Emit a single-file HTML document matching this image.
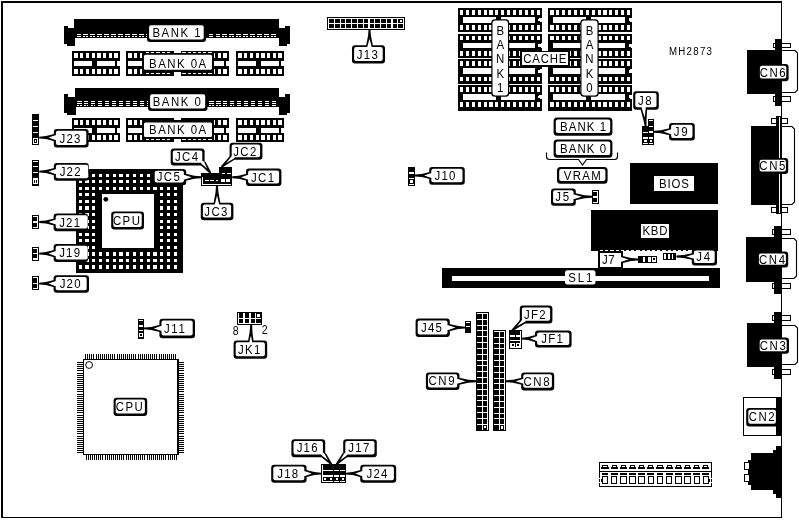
<!DOCTYPE html>
<html><head><meta charset="utf-8"><title>MH2873 board layout</title>
<style>
html,body{margin:0;padding:0;background:#fff;}
body{width:799px;height:520px;overflow:hidden;}
svg{display:block;filter:grayscale(1);font-family:"Liberation Sans",sans-serif;fill:#000;}
</style></head><body>
<svg width="799" height="520" viewBox="0 0 799 520" shape-rendering="crispEdges">
<rect x="0" y="0" width="799" height="520" fill="#fff"/>
<rect x="1.00" y="1.00" width="2.00" height="516.75" fill="#000"/>
<rect x="1.00" y="1.00" width="781.00" height="2.00" fill="#000"/>
<rect x="781.00" y="1.00" width="1.00" height="516.75" fill="#000"/>
<rect x="1.00" y="516.75" width="781.00" height="1.00" fill="#000"/>
<rect x="74.00" y="19.00" width="205.00" height="19.00" fill="#000"/>
<rect x="64.00" y="26.00" width="4.00" height="18.00" fill="#000"/>
<rect x="67.00" y="28.00" width="8.00" height="18.00" fill="#000"/>
<rect x="64.00" y="26.00" width="11.00" height="18.00" fill="#000"/>
<rect x="279.00" y="28.00" width="8.00" height="18.00" fill="#000"/>
<rect x="285.00" y="26.00" width="5.00" height="18.00" fill="#000"/>
<rect x="279.00" y="28.00" width="11.00" height="16.00" fill="#000"/>
<rect x="76.50" y="34.00" width="4.50" height="1.00" fill="#fff"/>
<rect x="83.45" y="34.00" width="4.50" height="1.00" fill="#fff"/>
<rect x="90.40" y="34.00" width="4.50" height="1.00" fill="#fff"/>
<rect x="97.35" y="34.00" width="4.50" height="1.00" fill="#fff"/>
<rect x="104.30" y="34.00" width="4.50" height="1.00" fill="#fff"/>
<rect x="111.25" y="34.00" width="4.50" height="1.00" fill="#fff"/>
<rect x="118.20" y="34.00" width="4.50" height="1.00" fill="#fff"/>
<rect x="125.15" y="34.00" width="4.50" height="1.00" fill="#fff"/>
<rect x="132.10" y="34.00" width="4.50" height="1.00" fill="#fff"/>
<rect x="139.05" y="34.00" width="4.50" height="1.00" fill="#fff"/>
<rect x="146.00" y="34.00" width="4.50" height="1.00" fill="#fff"/>
<rect x="152.95" y="34.00" width="4.50" height="1.00" fill="#fff"/>
<rect x="159.90" y="34.00" width="4.50" height="1.00" fill="#fff"/>
<rect x="166.85" y="34.00" width="4.50" height="1.00" fill="#fff"/>
<rect x="173.80" y="34.00" width="4.50" height="1.00" fill="#fff"/>
<rect x="180.75" y="34.00" width="4.50" height="1.00" fill="#fff"/>
<rect x="187.70" y="34.00" width="4.50" height="1.00" fill="#fff"/>
<rect x="194.65" y="34.00" width="4.50" height="1.00" fill="#fff"/>
<rect x="201.60" y="34.00" width="4.50" height="1.00" fill="#fff"/>
<rect x="208.55" y="34.00" width="4.50" height="1.00" fill="#fff"/>
<rect x="215.50" y="34.00" width="4.50" height="1.00" fill="#fff"/>
<rect x="222.45" y="34.00" width="4.50" height="1.00" fill="#fff"/>
<rect x="229.40" y="34.00" width="4.50" height="1.00" fill="#fff"/>
<rect x="236.35" y="34.00" width="4.50" height="1.00" fill="#fff"/>
<rect x="243.30" y="34.00" width="4.50" height="1.00" fill="#fff"/>
<rect x="250.25" y="34.00" width="4.50" height="1.00" fill="#fff"/>
<rect x="257.20" y="34.00" width="4.50" height="1.00" fill="#fff"/>
<rect x="264.15" y="34.00" width="4.50" height="1.00" fill="#fff"/>
<rect x="271.10" y="34.00" width="4.50" height="1.00" fill="#fff"/>
<rect x="76.50" y="36.00" width="2.00" height="1.00" fill="#fff"/>
<rect x="79.10" y="36.00" width="1.90" height="1.00" fill="#fff"/>
<rect x="83.45" y="36.00" width="2.00" height="1.00" fill="#fff"/>
<rect x="86.05" y="36.00" width="1.90" height="1.00" fill="#fff"/>
<rect x="90.40" y="36.00" width="2.00" height="1.00" fill="#fff"/>
<rect x="93.00" y="36.00" width="1.90" height="1.00" fill="#fff"/>
<rect x="97.35" y="36.00" width="2.00" height="1.00" fill="#fff"/>
<rect x="99.95" y="36.00" width="1.90" height="1.00" fill="#fff"/>
<rect x="104.30" y="36.00" width="2.00" height="1.00" fill="#fff"/>
<rect x="106.90" y="36.00" width="1.90" height="1.00" fill="#fff"/>
<rect x="111.25" y="36.00" width="2.00" height="1.00" fill="#fff"/>
<rect x="113.85" y="36.00" width="1.90" height="1.00" fill="#fff"/>
<rect x="118.20" y="36.00" width="2.00" height="1.00" fill="#fff"/>
<rect x="120.80" y="36.00" width="1.90" height="1.00" fill="#fff"/>
<rect x="125.15" y="36.00" width="2.00" height="1.00" fill="#fff"/>
<rect x="127.75" y="36.00" width="1.90" height="1.00" fill="#fff"/>
<rect x="132.10" y="36.00" width="2.00" height="1.00" fill="#fff"/>
<rect x="134.70" y="36.00" width="1.90" height="1.00" fill="#fff"/>
<rect x="139.05" y="36.00" width="2.00" height="1.00" fill="#fff"/>
<rect x="141.65" y="36.00" width="1.90" height="1.00" fill="#fff"/>
<rect x="146.00" y="36.00" width="2.00" height="1.00" fill="#fff"/>
<rect x="148.60" y="36.00" width="1.90" height="1.00" fill="#fff"/>
<rect x="152.95" y="36.00" width="2.00" height="1.00" fill="#fff"/>
<rect x="155.55" y="36.00" width="1.90" height="1.00" fill="#fff"/>
<rect x="159.90" y="36.00" width="2.00" height="1.00" fill="#fff"/>
<rect x="162.50" y="36.00" width="1.90" height="1.00" fill="#fff"/>
<rect x="166.85" y="36.00" width="2.00" height="1.00" fill="#fff"/>
<rect x="169.45" y="36.00" width="1.90" height="1.00" fill="#fff"/>
<rect x="173.80" y="36.00" width="2.00" height="1.00" fill="#fff"/>
<rect x="176.40" y="36.00" width="1.90" height="1.00" fill="#fff"/>
<rect x="180.75" y="36.00" width="2.00" height="1.00" fill="#fff"/>
<rect x="183.35" y="36.00" width="1.90" height="1.00" fill="#fff"/>
<rect x="187.70" y="36.00" width="2.00" height="1.00" fill="#fff"/>
<rect x="190.30" y="36.00" width="1.90" height="1.00" fill="#fff"/>
<rect x="194.65" y="36.00" width="2.00" height="1.00" fill="#fff"/>
<rect x="197.25" y="36.00" width="1.90" height="1.00" fill="#fff"/>
<rect x="201.60" y="36.00" width="2.00" height="1.00" fill="#fff"/>
<rect x="204.20" y="36.00" width="1.90" height="1.00" fill="#fff"/>
<rect x="208.55" y="36.00" width="2.00" height="1.00" fill="#fff"/>
<rect x="211.15" y="36.00" width="1.90" height="1.00" fill="#fff"/>
<rect x="215.50" y="36.00" width="2.00" height="1.00" fill="#fff"/>
<rect x="218.10" y="36.00" width="1.90" height="1.00" fill="#fff"/>
<rect x="222.45" y="36.00" width="2.00" height="1.00" fill="#fff"/>
<rect x="225.05" y="36.00" width="1.90" height="1.00" fill="#fff"/>
<rect x="229.40" y="36.00" width="2.00" height="1.00" fill="#fff"/>
<rect x="232.00" y="36.00" width="1.90" height="1.00" fill="#fff"/>
<rect x="236.35" y="36.00" width="2.00" height="1.00" fill="#fff"/>
<rect x="238.95" y="36.00" width="1.90" height="1.00" fill="#fff"/>
<rect x="243.30" y="36.00" width="2.00" height="1.00" fill="#fff"/>
<rect x="245.90" y="36.00" width="1.90" height="1.00" fill="#fff"/>
<rect x="250.25" y="36.00" width="2.00" height="1.00" fill="#fff"/>
<rect x="252.85" y="36.00" width="1.90" height="1.00" fill="#fff"/>
<rect x="257.20" y="36.00" width="2.00" height="1.00" fill="#fff"/>
<rect x="259.80" y="36.00" width="1.90" height="1.00" fill="#fff"/>
<rect x="264.15" y="36.00" width="2.00" height="1.00" fill="#fff"/>
<rect x="266.75" y="36.00" width="1.90" height="1.00" fill="#fff"/>
<rect x="271.10" y="36.00" width="2.00" height="1.00" fill="#fff"/>
<rect x="273.70" y="36.00" width="1.90" height="1.00" fill="#fff"/>
<rect x="68.00" y="26.00" width="6.00" height="2.00" fill="#fff"/>
<rect x="64.00" y="44.00" width="3.00" height="2.00" fill="#fff"/>
<rect x="279.00" y="26.00" width="6.00" height="2.00" fill="#fff"/>
<rect x="287.00" y="44.00" width="3.00" height="2.00" fill="#fff"/>
<rect x="75.00" y="88.00" width="204.00" height="19.00" fill="#000"/>
<rect x="64.00" y="94.00" width="12.00" height="21.00" fill="#000"/>
<rect x="68.00" y="94.00" width="7.00" height="3.00" fill="#fff"/>
<rect x="64.00" y="113.00" width="3.00" height="2.00" fill="#fff"/>
<rect x="279.00" y="94.00" width="11.00" height="21.00" fill="#000"/>
<rect x="279.00" y="94.00" width="6.00" height="3.00" fill="#fff"/>
<rect x="287.00" y="113.00" width="3.00" height="2.00" fill="#fff"/>
<rect x="77.00" y="101.00" width="4.50" height="1.00" fill="#fff"/>
<rect x="83.95" y="101.00" width="4.50" height="1.00" fill="#fff"/>
<rect x="90.90" y="101.00" width="4.50" height="1.00" fill="#fff"/>
<rect x="97.85" y="101.00" width="4.50" height="1.00" fill="#fff"/>
<rect x="104.80" y="101.00" width="4.50" height="1.00" fill="#fff"/>
<rect x="111.75" y="101.00" width="4.50" height="1.00" fill="#fff"/>
<rect x="118.70" y="101.00" width="4.50" height="1.00" fill="#fff"/>
<rect x="125.65" y="101.00" width="4.50" height="1.00" fill="#fff"/>
<rect x="132.60" y="101.00" width="4.50" height="1.00" fill="#fff"/>
<rect x="139.55" y="101.00" width="4.50" height="1.00" fill="#fff"/>
<rect x="146.50" y="101.00" width="4.50" height="1.00" fill="#fff"/>
<rect x="153.45" y="101.00" width="4.50" height="1.00" fill="#fff"/>
<rect x="160.40" y="101.00" width="4.50" height="1.00" fill="#fff"/>
<rect x="167.35" y="101.00" width="4.50" height="1.00" fill="#fff"/>
<rect x="174.30" y="101.00" width="4.50" height="1.00" fill="#fff"/>
<rect x="181.25" y="101.00" width="4.50" height="1.00" fill="#fff"/>
<rect x="188.20" y="101.00" width="4.50" height="1.00" fill="#fff"/>
<rect x="195.15" y="101.00" width="4.50" height="1.00" fill="#fff"/>
<rect x="202.10" y="101.00" width="4.50" height="1.00" fill="#fff"/>
<rect x="209.05" y="101.00" width="4.50" height="1.00" fill="#fff"/>
<rect x="216.00" y="101.00" width="4.50" height="1.00" fill="#fff"/>
<rect x="222.95" y="101.00" width="4.50" height="1.00" fill="#fff"/>
<rect x="229.90" y="101.00" width="4.50" height="1.00" fill="#fff"/>
<rect x="236.85" y="101.00" width="4.50" height="1.00" fill="#fff"/>
<rect x="243.80" y="101.00" width="4.50" height="1.00" fill="#fff"/>
<rect x="250.75" y="101.00" width="4.50" height="1.00" fill="#fff"/>
<rect x="257.70" y="101.00" width="4.50" height="1.00" fill="#fff"/>
<rect x="264.65" y="101.00" width="4.50" height="1.00" fill="#fff"/>
<rect x="271.60" y="101.00" width="4.50" height="1.00" fill="#fff"/>
<rect x="77.00" y="103.00" width="4.50" height="1.00" fill="#fff"/>
<rect x="83.95" y="103.00" width="4.50" height="1.00" fill="#fff"/>
<rect x="90.90" y="103.00" width="4.50" height="1.00" fill="#fff"/>
<rect x="97.85" y="103.00" width="4.50" height="1.00" fill="#fff"/>
<rect x="104.80" y="103.00" width="4.50" height="1.00" fill="#fff"/>
<rect x="111.75" y="103.00" width="4.50" height="1.00" fill="#fff"/>
<rect x="118.70" y="103.00" width="4.50" height="1.00" fill="#fff"/>
<rect x="125.65" y="103.00" width="4.50" height="1.00" fill="#fff"/>
<rect x="132.60" y="103.00" width="4.50" height="1.00" fill="#fff"/>
<rect x="139.55" y="103.00" width="4.50" height="1.00" fill="#fff"/>
<rect x="146.50" y="103.00" width="4.50" height="1.00" fill="#fff"/>
<rect x="153.45" y="103.00" width="4.50" height="1.00" fill="#fff"/>
<rect x="160.40" y="103.00" width="4.50" height="1.00" fill="#fff"/>
<rect x="167.35" y="103.00" width="4.50" height="1.00" fill="#fff"/>
<rect x="174.30" y="103.00" width="4.50" height="1.00" fill="#fff"/>
<rect x="181.25" y="103.00" width="4.50" height="1.00" fill="#fff"/>
<rect x="188.20" y="103.00" width="4.50" height="1.00" fill="#fff"/>
<rect x="195.15" y="103.00" width="4.50" height="1.00" fill="#fff"/>
<rect x="202.10" y="103.00" width="4.50" height="1.00" fill="#fff"/>
<rect x="209.05" y="103.00" width="4.50" height="1.00" fill="#fff"/>
<rect x="216.00" y="103.00" width="4.50" height="1.00" fill="#fff"/>
<rect x="222.95" y="103.00" width="4.50" height="1.00" fill="#fff"/>
<rect x="229.90" y="103.00" width="4.50" height="1.00" fill="#fff"/>
<rect x="236.85" y="103.00" width="4.50" height="1.00" fill="#fff"/>
<rect x="243.80" y="103.00" width="4.50" height="1.00" fill="#fff"/>
<rect x="250.75" y="103.00" width="4.50" height="1.00" fill="#fff"/>
<rect x="257.70" y="103.00" width="4.50" height="1.00" fill="#fff"/>
<rect x="264.65" y="103.00" width="4.50" height="1.00" fill="#fff"/>
<rect x="271.60" y="103.00" width="4.50" height="1.00" fill="#fff"/>
<rect x="77.00" y="105.00" width="2.00" height="1.00" fill="#fff"/>
<rect x="79.60" y="105.00" width="1.90" height="1.00" fill="#fff"/>
<rect x="83.95" y="105.00" width="2.00" height="1.00" fill="#fff"/>
<rect x="86.55" y="105.00" width="1.90" height="1.00" fill="#fff"/>
<rect x="90.90" y="105.00" width="2.00" height="1.00" fill="#fff"/>
<rect x="93.50" y="105.00" width="1.90" height="1.00" fill="#fff"/>
<rect x="97.85" y="105.00" width="2.00" height="1.00" fill="#fff"/>
<rect x="100.45" y="105.00" width="1.90" height="1.00" fill="#fff"/>
<rect x="104.80" y="105.00" width="2.00" height="1.00" fill="#fff"/>
<rect x="107.40" y="105.00" width="1.90" height="1.00" fill="#fff"/>
<rect x="111.75" y="105.00" width="2.00" height="1.00" fill="#fff"/>
<rect x="114.35" y="105.00" width="1.90" height="1.00" fill="#fff"/>
<rect x="118.70" y="105.00" width="2.00" height="1.00" fill="#fff"/>
<rect x="121.30" y="105.00" width="1.90" height="1.00" fill="#fff"/>
<rect x="125.65" y="105.00" width="2.00" height="1.00" fill="#fff"/>
<rect x="128.25" y="105.00" width="1.90" height="1.00" fill="#fff"/>
<rect x="132.60" y="105.00" width="2.00" height="1.00" fill="#fff"/>
<rect x="135.20" y="105.00" width="1.90" height="1.00" fill="#fff"/>
<rect x="139.55" y="105.00" width="2.00" height="1.00" fill="#fff"/>
<rect x="142.15" y="105.00" width="1.90" height="1.00" fill="#fff"/>
<rect x="146.50" y="105.00" width="2.00" height="1.00" fill="#fff"/>
<rect x="149.10" y="105.00" width="1.90" height="1.00" fill="#fff"/>
<rect x="153.45" y="105.00" width="2.00" height="1.00" fill="#fff"/>
<rect x="156.05" y="105.00" width="1.90" height="1.00" fill="#fff"/>
<rect x="160.40" y="105.00" width="2.00" height="1.00" fill="#fff"/>
<rect x="163.00" y="105.00" width="1.90" height="1.00" fill="#fff"/>
<rect x="167.35" y="105.00" width="2.00" height="1.00" fill="#fff"/>
<rect x="169.95" y="105.00" width="1.90" height="1.00" fill="#fff"/>
<rect x="174.30" y="105.00" width="2.00" height="1.00" fill="#fff"/>
<rect x="176.90" y="105.00" width="1.90" height="1.00" fill="#fff"/>
<rect x="181.25" y="105.00" width="2.00" height="1.00" fill="#fff"/>
<rect x="183.85" y="105.00" width="1.90" height="1.00" fill="#fff"/>
<rect x="188.20" y="105.00" width="2.00" height="1.00" fill="#fff"/>
<rect x="190.80" y="105.00" width="1.90" height="1.00" fill="#fff"/>
<rect x="195.15" y="105.00" width="2.00" height="1.00" fill="#fff"/>
<rect x="197.75" y="105.00" width="1.90" height="1.00" fill="#fff"/>
<rect x="202.10" y="105.00" width="2.00" height="1.00" fill="#fff"/>
<rect x="204.70" y="105.00" width="1.90" height="1.00" fill="#fff"/>
<rect x="209.05" y="105.00" width="2.00" height="1.00" fill="#fff"/>
<rect x="211.65" y="105.00" width="1.90" height="1.00" fill="#fff"/>
<rect x="216.00" y="105.00" width="2.00" height="1.00" fill="#fff"/>
<rect x="218.60" y="105.00" width="1.90" height="1.00" fill="#fff"/>
<rect x="222.95" y="105.00" width="2.00" height="1.00" fill="#fff"/>
<rect x="225.55" y="105.00" width="1.90" height="1.00" fill="#fff"/>
<rect x="229.90" y="105.00" width="2.00" height="1.00" fill="#fff"/>
<rect x="232.50" y="105.00" width="1.90" height="1.00" fill="#fff"/>
<rect x="236.85" y="105.00" width="2.00" height="1.00" fill="#fff"/>
<rect x="239.45" y="105.00" width="1.90" height="1.00" fill="#fff"/>
<rect x="243.80" y="105.00" width="2.00" height="1.00" fill="#fff"/>
<rect x="246.40" y="105.00" width="1.90" height="1.00" fill="#fff"/>
<rect x="250.75" y="105.00" width="2.00" height="1.00" fill="#fff"/>
<rect x="253.35" y="105.00" width="1.90" height="1.00" fill="#fff"/>
<rect x="257.70" y="105.00" width="2.00" height="1.00" fill="#fff"/>
<rect x="260.30" y="105.00" width="1.90" height="1.00" fill="#fff"/>
<rect x="264.65" y="105.00" width="2.00" height="1.00" fill="#fff"/>
<rect x="267.25" y="105.00" width="1.90" height="1.00" fill="#fff"/>
<rect x="271.60" y="105.00" width="2.00" height="1.00" fill="#fff"/>
<rect x="274.20" y="105.00" width="1.90" height="1.00" fill="#fff"/>
<rect x="72.00" y="51.00" width="48.00" height="25.00" fill="#000"/>
<rect x="74.40" y="53.00" width="3.30" height="4.80" fill="#fff"/>
<rect x="74.40" y="69.00" width="3.30" height="4.80" fill="#fff"/>
<rect x="80.12" y="53.00" width="3.30" height="4.80" fill="#fff"/>
<rect x="80.12" y="69.00" width="3.30" height="4.80" fill="#fff"/>
<rect x="85.84" y="53.00" width="3.30" height="4.80" fill="#fff"/>
<rect x="85.84" y="69.00" width="3.30" height="4.80" fill="#fff"/>
<rect x="91.56" y="53.00" width="3.30" height="4.80" fill="#fff"/>
<rect x="91.56" y="69.00" width="3.30" height="4.80" fill="#fff"/>
<rect x="97.28" y="53.00" width="3.30" height="4.80" fill="#fff"/>
<rect x="97.28" y="69.00" width="3.30" height="4.80" fill="#fff"/>
<rect x="103.00" y="53.00" width="3.30" height="4.80" fill="#fff"/>
<rect x="103.00" y="69.00" width="3.30" height="4.80" fill="#fff"/>
<rect x="108.72" y="53.00" width="3.30" height="4.80" fill="#fff"/>
<rect x="108.72" y="69.00" width="3.30" height="4.80" fill="#fff"/>
<rect x="114.44" y="53.00" width="4.00" height="4.80" fill="#fff"/>
<rect x="114.44" y="69.00" width="4.00" height="4.80" fill="#fff"/>
<rect x="74.30" y="60.90" width="17.52" height="4.95" fill="#fff"/>
<rect x="96.82" y="60.90" width="18.28" height="4.95" fill="#fff"/>
<polygon points="120.00,61.10 117.40,61.10 116.60,62.10 116.60,65.05 117.40,66.15 120.00,66.15" fill="#fff"/>
<rect x="126.00" y="51.00" width="48.00" height="25.00" fill="#000"/>
<rect x="128.40" y="53.00" width="3.30" height="4.80" fill="#fff"/>
<rect x="128.40" y="69.00" width="3.30" height="4.80" fill="#fff"/>
<rect x="134.12" y="53.00" width="3.30" height="4.80" fill="#fff"/>
<rect x="134.12" y="69.00" width="3.30" height="4.80" fill="#fff"/>
<rect x="139.84" y="53.00" width="3.30" height="4.80" fill="#fff"/>
<rect x="139.84" y="69.00" width="3.30" height="4.80" fill="#fff"/>
<rect x="145.56" y="53.00" width="3.30" height="4.80" fill="#fff"/>
<rect x="145.56" y="69.00" width="3.30" height="4.80" fill="#fff"/>
<rect x="151.28" y="53.00" width="3.30" height="4.80" fill="#fff"/>
<rect x="151.28" y="69.00" width="3.30" height="4.80" fill="#fff"/>
<rect x="157.00" y="53.00" width="3.30" height="4.80" fill="#fff"/>
<rect x="157.00" y="69.00" width="3.30" height="4.80" fill="#fff"/>
<rect x="162.72" y="53.00" width="3.30" height="4.80" fill="#fff"/>
<rect x="162.72" y="69.00" width="3.30" height="4.80" fill="#fff"/>
<rect x="168.44" y="53.00" width="4.00" height="4.80" fill="#fff"/>
<rect x="168.44" y="69.00" width="4.00" height="4.80" fill="#fff"/>
<rect x="128.30" y="60.90" width="17.52" height="4.95" fill="#fff"/>
<rect x="150.82" y="60.90" width="18.28" height="4.95" fill="#fff"/>
<polygon points="174.00,61.10 171.40,61.10 170.60,62.10 170.60,65.05 171.40,66.15 174.00,66.15" fill="#fff"/>
<rect x="181.00" y="51.00" width="48.00" height="25.00" fill="#000"/>
<rect x="183.40" y="53.00" width="3.30" height="4.80" fill="#fff"/>
<rect x="183.40" y="69.00" width="3.30" height="4.80" fill="#fff"/>
<rect x="189.12" y="53.00" width="3.30" height="4.80" fill="#fff"/>
<rect x="189.12" y="69.00" width="3.30" height="4.80" fill="#fff"/>
<rect x="194.84" y="53.00" width="3.30" height="4.80" fill="#fff"/>
<rect x="194.84" y="69.00" width="3.30" height="4.80" fill="#fff"/>
<rect x="200.56" y="53.00" width="3.30" height="4.80" fill="#fff"/>
<rect x="200.56" y="69.00" width="3.30" height="4.80" fill="#fff"/>
<rect x="206.28" y="53.00" width="3.30" height="4.80" fill="#fff"/>
<rect x="206.28" y="69.00" width="3.30" height="4.80" fill="#fff"/>
<rect x="212.00" y="53.00" width="3.30" height="4.80" fill="#fff"/>
<rect x="212.00" y="69.00" width="3.30" height="4.80" fill="#fff"/>
<rect x="217.72" y="53.00" width="3.30" height="4.80" fill="#fff"/>
<rect x="217.72" y="69.00" width="3.30" height="4.80" fill="#fff"/>
<rect x="223.44" y="53.00" width="4.00" height="4.80" fill="#fff"/>
<rect x="223.44" y="69.00" width="4.00" height="4.80" fill="#fff"/>
<rect x="183.30" y="60.90" width="17.52" height="4.95" fill="#fff"/>
<rect x="205.82" y="60.90" width="18.28" height="4.95" fill="#fff"/>
<polygon points="229.00,61.10 226.40,61.10 225.60,62.10 225.60,65.05 226.40,66.15 229.00,66.15" fill="#fff"/>
<rect x="236.00" y="51.00" width="48.00" height="25.00" fill="#000"/>
<rect x="238.40" y="53.00" width="3.30" height="4.80" fill="#fff"/>
<rect x="238.40" y="69.00" width="3.30" height="4.80" fill="#fff"/>
<rect x="244.12" y="53.00" width="3.30" height="4.80" fill="#fff"/>
<rect x="244.12" y="69.00" width="3.30" height="4.80" fill="#fff"/>
<rect x="249.84" y="53.00" width="3.30" height="4.80" fill="#fff"/>
<rect x="249.84" y="69.00" width="3.30" height="4.80" fill="#fff"/>
<rect x="255.56" y="53.00" width="3.30" height="4.80" fill="#fff"/>
<rect x="255.56" y="69.00" width="3.30" height="4.80" fill="#fff"/>
<rect x="261.28" y="53.00" width="3.30" height="4.80" fill="#fff"/>
<rect x="261.28" y="69.00" width="3.30" height="4.80" fill="#fff"/>
<rect x="267.00" y="53.00" width="3.30" height="4.80" fill="#fff"/>
<rect x="267.00" y="69.00" width="3.30" height="4.80" fill="#fff"/>
<rect x="272.72" y="53.00" width="3.30" height="4.80" fill="#fff"/>
<rect x="272.72" y="69.00" width="3.30" height="4.80" fill="#fff"/>
<rect x="278.44" y="53.00" width="4.00" height="4.80" fill="#fff"/>
<rect x="278.44" y="69.00" width="4.00" height="4.80" fill="#fff"/>
<rect x="238.30" y="60.90" width="17.52" height="4.95" fill="#fff"/>
<rect x="260.82" y="60.90" width="18.28" height="4.95" fill="#fff"/>
<polygon points="284.00,61.10 281.40,61.10 280.60,62.10 280.60,65.05 281.40,66.15 284.00,66.15" fill="#fff"/>
<rect x="142.00" y="53.00" width="72.00" height="19.00" fill="#000"/>
<rect x="142.00" y="51.50" width="32.00" height="24.00" fill="#000"/>
<rect x="181.00" y="51.50" width="33.00" height="24.00" fill="#000"/>
<rect x="146.00" y="52.00" width="3.20" height="1.20" fill="#fff"/>
<rect x="151.20" y="52.00" width="3.20" height="1.20" fill="#fff"/>
<rect x="156.40" y="52.00" width="3.20" height="1.20" fill="#fff"/>
<rect x="161.60" y="52.00" width="3.20" height="1.20" fill="#fff"/>
<rect x="166.80" y="52.00" width="3.20" height="1.20" fill="#fff"/>
<rect x="182.40" y="52.00" width="3.20" height="1.20" fill="#fff"/>
<rect x="187.60" y="52.00" width="3.20" height="1.20" fill="#fff"/>
<rect x="192.80" y="52.00" width="3.20" height="1.20" fill="#fff"/>
<rect x="198.00" y="52.00" width="3.20" height="1.20" fill="#fff"/>
<rect x="203.20" y="52.00" width="3.20" height="1.20" fill="#fff"/>
<rect x="208.40" y="52.00" width="3.20" height="1.20" fill="#fff"/>
<rect x="146.00" y="73.00" width="3.20" height="1.20" fill="#fff"/>
<rect x="151.20" y="73.00" width="3.20" height="1.20" fill="#fff"/>
<rect x="156.40" y="73.00" width="3.20" height="1.20" fill="#fff"/>
<rect x="161.60" y="73.00" width="3.20" height="1.20" fill="#fff"/>
<rect x="166.80" y="73.00" width="3.20" height="1.20" fill="#fff"/>
<rect x="182.40" y="73.00" width="3.20" height="1.20" fill="#fff"/>
<rect x="187.60" y="73.00" width="3.20" height="1.20" fill="#fff"/>
<rect x="192.80" y="73.00" width="3.20" height="1.20" fill="#fff"/>
<rect x="198.00" y="73.00" width="3.20" height="1.20" fill="#fff"/>
<rect x="203.20" y="73.00" width="3.20" height="1.20" fill="#fff"/>
<rect x="208.40" y="73.00" width="3.20" height="1.20" fill="#fff"/>
<rect x="144" y="54.75" width="68" height="15.05" rx="1.5" fill="#fff" shape-rendering="geometricPrecision"/>
<text transform="translate(177.60,67.90) scale(0.88,1)" font-size="13" text-anchor="middle" textLength="64.77" lengthAdjust="spacing">BANK 0A</text>
<rect x="72.00" y="118.00" width="48.00" height="24.00" fill="#000"/>
<rect x="74.40" y="120.00" width="3.30" height="4.80" fill="#fff"/>
<rect x="74.40" y="135.00" width="3.30" height="4.80" fill="#fff"/>
<rect x="80.12" y="120.00" width="3.30" height="4.80" fill="#fff"/>
<rect x="80.12" y="135.00" width="3.30" height="4.80" fill="#fff"/>
<rect x="85.84" y="120.00" width="3.30" height="4.80" fill="#fff"/>
<rect x="85.84" y="135.00" width="3.30" height="4.80" fill="#fff"/>
<rect x="91.56" y="120.00" width="3.30" height="4.80" fill="#fff"/>
<rect x="91.56" y="135.00" width="3.30" height="4.80" fill="#fff"/>
<rect x="97.28" y="120.00" width="3.30" height="4.80" fill="#fff"/>
<rect x="97.28" y="135.00" width="3.30" height="4.80" fill="#fff"/>
<rect x="103.00" y="120.00" width="3.30" height="4.80" fill="#fff"/>
<rect x="103.00" y="135.00" width="3.30" height="4.80" fill="#fff"/>
<rect x="108.72" y="120.00" width="3.30" height="4.80" fill="#fff"/>
<rect x="108.72" y="135.00" width="3.30" height="4.80" fill="#fff"/>
<rect x="114.44" y="120.00" width="4.00" height="4.80" fill="#fff"/>
<rect x="114.44" y="135.00" width="4.00" height="4.80" fill="#fff"/>
<rect x="74.30" y="127.90" width="17.52" height="4.60" fill="#fff"/>
<rect x="96.82" y="127.90" width="18.28" height="4.60" fill="#fff"/>
<polygon points="120.00,128.10 117.40,128.10 116.60,129.10 116.60,131.70 117.40,132.80 120.00,132.80" fill="#fff"/>
<rect x="126.00" y="118.00" width="48.00" height="24.00" fill="#000"/>
<rect x="128.40" y="120.00" width="3.30" height="4.80" fill="#fff"/>
<rect x="128.40" y="135.00" width="3.30" height="4.80" fill="#fff"/>
<rect x="134.12" y="120.00" width="3.30" height="4.80" fill="#fff"/>
<rect x="134.12" y="135.00" width="3.30" height="4.80" fill="#fff"/>
<rect x="139.84" y="120.00" width="3.30" height="4.80" fill="#fff"/>
<rect x="139.84" y="135.00" width="3.30" height="4.80" fill="#fff"/>
<rect x="145.56" y="120.00" width="3.30" height="4.80" fill="#fff"/>
<rect x="145.56" y="135.00" width="3.30" height="4.80" fill="#fff"/>
<rect x="151.28" y="120.00" width="3.30" height="4.80" fill="#fff"/>
<rect x="151.28" y="135.00" width="3.30" height="4.80" fill="#fff"/>
<rect x="157.00" y="120.00" width="3.30" height="4.80" fill="#fff"/>
<rect x="157.00" y="135.00" width="3.30" height="4.80" fill="#fff"/>
<rect x="162.72" y="120.00" width="3.30" height="4.80" fill="#fff"/>
<rect x="162.72" y="135.00" width="3.30" height="4.80" fill="#fff"/>
<rect x="168.44" y="120.00" width="4.00" height="4.80" fill="#fff"/>
<rect x="168.44" y="135.00" width="4.00" height="4.80" fill="#fff"/>
<rect x="128.30" y="127.90" width="17.52" height="4.60" fill="#fff"/>
<rect x="150.82" y="127.90" width="18.28" height="4.60" fill="#fff"/>
<polygon points="174.00,128.10 171.40,128.10 170.60,129.10 170.60,131.70 171.40,132.80 174.00,132.80" fill="#fff"/>
<rect x="181.00" y="118.00" width="48.00" height="24.00" fill="#000"/>
<rect x="183.40" y="120.00" width="3.30" height="4.80" fill="#fff"/>
<rect x="183.40" y="135.00" width="3.30" height="4.80" fill="#fff"/>
<rect x="189.12" y="120.00" width="3.30" height="4.80" fill="#fff"/>
<rect x="189.12" y="135.00" width="3.30" height="4.80" fill="#fff"/>
<rect x="194.84" y="120.00" width="3.30" height="4.80" fill="#fff"/>
<rect x="194.84" y="135.00" width="3.30" height="4.80" fill="#fff"/>
<rect x="200.56" y="120.00" width="3.30" height="4.80" fill="#fff"/>
<rect x="200.56" y="135.00" width="3.30" height="4.80" fill="#fff"/>
<rect x="206.28" y="120.00" width="3.30" height="4.80" fill="#fff"/>
<rect x="206.28" y="135.00" width="3.30" height="4.80" fill="#fff"/>
<rect x="212.00" y="120.00" width="3.30" height="4.80" fill="#fff"/>
<rect x="212.00" y="135.00" width="3.30" height="4.80" fill="#fff"/>
<rect x="217.72" y="120.00" width="3.30" height="4.80" fill="#fff"/>
<rect x="217.72" y="135.00" width="3.30" height="4.80" fill="#fff"/>
<rect x="223.44" y="120.00" width="4.00" height="4.80" fill="#fff"/>
<rect x="223.44" y="135.00" width="4.00" height="4.80" fill="#fff"/>
<rect x="183.30" y="127.90" width="17.52" height="4.60" fill="#fff"/>
<rect x="205.82" y="127.90" width="18.28" height="4.60" fill="#fff"/>
<polygon points="229.00,128.10 226.40,128.10 225.60,129.10 225.60,131.70 226.40,132.80 229.00,132.80" fill="#fff"/>
<rect x="236.00" y="118.00" width="48.00" height="24.00" fill="#000"/>
<rect x="238.40" y="120.00" width="3.30" height="4.80" fill="#fff"/>
<rect x="238.40" y="135.00" width="3.30" height="4.80" fill="#fff"/>
<rect x="244.12" y="120.00" width="3.30" height="4.80" fill="#fff"/>
<rect x="244.12" y="135.00" width="3.30" height="4.80" fill="#fff"/>
<rect x="249.84" y="120.00" width="3.30" height="4.80" fill="#fff"/>
<rect x="249.84" y="135.00" width="3.30" height="4.80" fill="#fff"/>
<rect x="255.56" y="120.00" width="3.30" height="4.80" fill="#fff"/>
<rect x="255.56" y="135.00" width="3.30" height="4.80" fill="#fff"/>
<rect x="261.28" y="120.00" width="3.30" height="4.80" fill="#fff"/>
<rect x="261.28" y="135.00" width="3.30" height="4.80" fill="#fff"/>
<rect x="267.00" y="120.00" width="3.30" height="4.80" fill="#fff"/>
<rect x="267.00" y="135.00" width="3.30" height="4.80" fill="#fff"/>
<rect x="272.72" y="120.00" width="3.30" height="4.80" fill="#fff"/>
<rect x="272.72" y="135.00" width="3.30" height="4.80" fill="#fff"/>
<rect x="278.44" y="120.00" width="4.00" height="4.80" fill="#fff"/>
<rect x="278.44" y="135.00" width="4.00" height="4.80" fill="#fff"/>
<rect x="238.30" y="127.90" width="17.52" height="4.60" fill="#fff"/>
<rect x="260.82" y="127.90" width="18.28" height="4.60" fill="#fff"/>
<polygon points="284.00,128.10 281.40,128.10 280.60,129.10 280.60,131.70 281.40,132.80 284.00,132.80" fill="#fff"/>
<rect x="142.00" y="120.00" width="72.00" height="19.00" fill="#000"/>
<rect x="142.00" y="118.50" width="32.00" height="23.00" fill="#000"/>
<rect x="181.00" y="118.50" width="33.00" height="23.00" fill="#000"/>
<rect x="146.00" y="139.00" width="3.20" height="1.20" fill="#fff"/>
<rect x="151.20" y="139.00" width="3.20" height="1.20" fill="#fff"/>
<rect x="156.40" y="139.00" width="3.20" height="1.20" fill="#fff"/>
<rect x="161.60" y="139.00" width="3.20" height="1.20" fill="#fff"/>
<rect x="166.80" y="139.00" width="3.20" height="1.20" fill="#fff"/>
<rect x="182.40" y="139.00" width="3.20" height="1.20" fill="#fff"/>
<rect x="187.60" y="139.00" width="3.20" height="1.20" fill="#fff"/>
<rect x="192.80" y="139.00" width="3.20" height="1.20" fill="#fff"/>
<rect x="198.00" y="139.00" width="3.20" height="1.20" fill="#fff"/>
<rect x="203.20" y="139.00" width="3.20" height="1.20" fill="#fff"/>
<rect x="208.40" y="139.00" width="3.20" height="1.20" fill="#fff"/>
<rect x="144" y="122.5" width="68" height="14.60" rx="1.5" fill="#fff" shape-rendering="geometricPrecision"/>
<text transform="translate(177.60,134.30) scale(0.88,1)" font-size="13" text-anchor="middle" textLength="64.77" lengthAdjust="spacing">BANK 0A</text>
<rect x="327.00" y="16.70" width="78.00" height="13.30" fill="#000"/>
<rect x="328.20" y="17.90" width="75.60" height="10.90" fill="#fff"/>
<rect x="329.20" y="18.50" width="4.60" height="4.50" fill="#000"/>
<rect x="329.20" y="24.00" width="4.60" height="4.00" fill="#000"/>
<rect x="334.96" y="18.50" width="4.60" height="4.50" fill="#000"/>
<rect x="334.96" y="24.00" width="4.60" height="4.00" fill="#000"/>
<rect x="340.72" y="18.50" width="4.60" height="4.50" fill="#000"/>
<rect x="340.72" y="24.00" width="4.60" height="4.00" fill="#000"/>
<rect x="346.48" y="18.50" width="4.60" height="4.50" fill="#000"/>
<rect x="346.48" y="24.00" width="4.60" height="4.00" fill="#000"/>
<rect x="352.24" y="18.50" width="4.60" height="4.50" fill="#000"/>
<rect x="352.24" y="24.00" width="4.60" height="4.00" fill="#000"/>
<rect x="358.00" y="18.50" width="4.60" height="4.50" fill="#000"/>
<rect x="358.00" y="24.00" width="4.60" height="4.00" fill="#000"/>
<rect x="363.76" y="18.50" width="4.60" height="4.50" fill="#000"/>
<rect x="363.76" y="24.00" width="4.60" height="4.00" fill="#000"/>
<rect x="369.52" y="18.50" width="4.60" height="4.50" fill="#000"/>
<rect x="369.52" y="24.00" width="4.60" height="4.00" fill="#000"/>
<rect x="375.28" y="18.50" width="4.60" height="4.50" fill="#000"/>
<rect x="375.28" y="24.00" width="4.60" height="4.00" fill="#000"/>
<rect x="381.04" y="18.50" width="4.60" height="4.50" fill="#000"/>
<rect x="381.04" y="24.00" width="4.60" height="4.00" fill="#000"/>
<rect x="386.80" y="18.50" width="4.60" height="4.50" fill="#000"/>
<rect x="386.80" y="24.00" width="4.60" height="4.00" fill="#000"/>
<rect x="392.56" y="18.50" width="4.60" height="4.50" fill="#000"/>
<rect x="392.56" y="24.00" width="4.60" height="4.00" fill="#000"/>
<rect x="398.32" y="18.50" width="4.60" height="4.50" fill="#000"/>
<rect x="399.62" y="19.60" width="2.00" height="2.40" fill="#fff"/>
<rect x="398.32" y="24.00" width="4.60" height="4.00" fill="#000"/>
<rect x="458.00" y="8.00" width="83.60" height="24.40" fill="#000"/>
<rect x="460.00" y="10.00" width="3.10" height="4.80" fill="#fff"/>
<rect x="460.00" y="25.20" width="3.10" height="4.80" fill="#fff"/>
<rect x="465.89" y="10.00" width="3.10" height="4.80" fill="#fff"/>
<rect x="465.89" y="25.20" width="3.10" height="4.80" fill="#fff"/>
<rect x="471.78" y="10.00" width="3.10" height="4.80" fill="#fff"/>
<rect x="471.78" y="25.20" width="3.10" height="4.80" fill="#fff"/>
<rect x="477.67" y="10.00" width="3.10" height="4.80" fill="#fff"/>
<rect x="477.67" y="25.20" width="3.10" height="4.80" fill="#fff"/>
<rect x="483.56" y="10.00" width="3.10" height="4.80" fill="#fff"/>
<rect x="483.56" y="25.20" width="3.10" height="4.80" fill="#fff"/>
<rect x="489.45" y="10.00" width="3.10" height="4.80" fill="#fff"/>
<rect x="489.45" y="25.20" width="3.10" height="4.80" fill="#fff"/>
<rect x="495.34" y="10.00" width="3.10" height="4.80" fill="#fff"/>
<rect x="495.34" y="25.20" width="3.10" height="4.80" fill="#fff"/>
<rect x="501.23" y="10.00" width="3.10" height="4.80" fill="#fff"/>
<rect x="501.23" y="25.20" width="3.10" height="4.80" fill="#fff"/>
<rect x="507.12" y="10.00" width="3.10" height="4.80" fill="#fff"/>
<rect x="507.12" y="25.20" width="3.10" height="4.80" fill="#fff"/>
<rect x="513.01" y="10.00" width="3.10" height="4.80" fill="#fff"/>
<rect x="513.01" y="25.20" width="3.10" height="4.80" fill="#fff"/>
<rect x="518.90" y="10.00" width="3.10" height="4.80" fill="#fff"/>
<rect x="518.90" y="25.20" width="3.10" height="4.80" fill="#fff"/>
<rect x="524.79" y="10.00" width="3.10" height="4.80" fill="#fff"/>
<rect x="524.79" y="25.20" width="3.10" height="4.80" fill="#fff"/>
<rect x="530.68" y="10.00" width="3.10" height="4.80" fill="#fff"/>
<rect x="530.68" y="25.20" width="3.10" height="4.80" fill="#fff"/>
<rect x="536.57" y="10.00" width="3.10" height="4.80" fill="#fff"/>
<rect x="536.57" y="25.20" width="3.10" height="4.80" fill="#fff"/>
<rect x="462.70" y="17.00" width="32.80" height="5.60" fill="#fff"/>
<rect x="500.50" y="17.00" width="34.10" height="5.60" fill="#fff"/>
<polygon points="541.60,17.80 538.40,18.60 538.40,21.20 541.60,22.00" fill="#fff"/>
<rect x="458.00" y="33.65" width="83.60" height="24.40" fill="#000"/>
<rect x="460.00" y="35.65" width="3.10" height="4.80" fill="#fff"/>
<rect x="460.00" y="50.85" width="3.10" height="4.80" fill="#fff"/>
<rect x="465.89" y="35.65" width="3.10" height="4.80" fill="#fff"/>
<rect x="465.89" y="50.85" width="3.10" height="4.80" fill="#fff"/>
<rect x="471.78" y="35.65" width="3.10" height="4.80" fill="#fff"/>
<rect x="471.78" y="50.85" width="3.10" height="4.80" fill="#fff"/>
<rect x="477.67" y="35.65" width="3.10" height="4.80" fill="#fff"/>
<rect x="477.67" y="50.85" width="3.10" height="4.80" fill="#fff"/>
<rect x="483.56" y="35.65" width="3.10" height="4.80" fill="#fff"/>
<rect x="483.56" y="50.85" width="3.10" height="4.80" fill="#fff"/>
<rect x="489.45" y="35.65" width="3.10" height="4.80" fill="#fff"/>
<rect x="489.45" y="50.85" width="3.10" height="4.80" fill="#fff"/>
<rect x="495.34" y="35.65" width="3.10" height="4.80" fill="#fff"/>
<rect x="495.34" y="50.85" width="3.10" height="4.80" fill="#fff"/>
<rect x="501.23" y="35.65" width="3.10" height="4.80" fill="#fff"/>
<rect x="501.23" y="50.85" width="3.10" height="4.80" fill="#fff"/>
<rect x="507.12" y="35.65" width="3.10" height="4.80" fill="#fff"/>
<rect x="507.12" y="50.85" width="3.10" height="4.80" fill="#fff"/>
<rect x="513.01" y="35.65" width="3.10" height="4.80" fill="#fff"/>
<rect x="513.01" y="50.85" width="3.10" height="4.80" fill="#fff"/>
<rect x="518.90" y="35.65" width="3.10" height="4.80" fill="#fff"/>
<rect x="518.90" y="50.85" width="3.10" height="4.80" fill="#fff"/>
<rect x="524.79" y="35.65" width="3.10" height="4.80" fill="#fff"/>
<rect x="524.79" y="50.85" width="3.10" height="4.80" fill="#fff"/>
<rect x="530.68" y="35.65" width="3.10" height="4.80" fill="#fff"/>
<rect x="530.68" y="50.85" width="3.10" height="4.80" fill="#fff"/>
<rect x="536.57" y="35.65" width="3.10" height="4.80" fill="#fff"/>
<rect x="536.57" y="50.85" width="3.10" height="4.80" fill="#fff"/>
<rect x="462.70" y="42.65" width="32.80" height="5.60" fill="#fff"/>
<rect x="500.50" y="42.65" width="34.10" height="5.60" fill="#fff"/>
<polygon points="541.60,43.45 538.40,44.25 538.40,46.85 541.60,47.65" fill="#fff"/>
<rect x="458.00" y="59.30" width="83.60" height="24.40" fill="#000"/>
<rect x="460.00" y="61.30" width="3.10" height="4.80" fill="#fff"/>
<rect x="460.00" y="76.50" width="3.10" height="4.80" fill="#fff"/>
<rect x="465.89" y="61.30" width="3.10" height="4.80" fill="#fff"/>
<rect x="465.89" y="76.50" width="3.10" height="4.80" fill="#fff"/>
<rect x="471.78" y="61.30" width="3.10" height="4.80" fill="#fff"/>
<rect x="471.78" y="76.50" width="3.10" height="4.80" fill="#fff"/>
<rect x="477.67" y="61.30" width="3.10" height="4.80" fill="#fff"/>
<rect x="477.67" y="76.50" width="3.10" height="4.80" fill="#fff"/>
<rect x="483.56" y="61.30" width="3.10" height="4.80" fill="#fff"/>
<rect x="483.56" y="76.50" width="3.10" height="4.80" fill="#fff"/>
<rect x="489.45" y="61.30" width="3.10" height="4.80" fill="#fff"/>
<rect x="489.45" y="76.50" width="3.10" height="4.80" fill="#fff"/>
<rect x="495.34" y="61.30" width="3.10" height="4.80" fill="#fff"/>
<rect x="495.34" y="76.50" width="3.10" height="4.80" fill="#fff"/>
<rect x="501.23" y="61.30" width="3.10" height="4.80" fill="#fff"/>
<rect x="501.23" y="76.50" width="3.10" height="4.80" fill="#fff"/>
<rect x="507.12" y="61.30" width="3.10" height="4.80" fill="#fff"/>
<rect x="507.12" y="76.50" width="3.10" height="4.80" fill="#fff"/>
<rect x="513.01" y="61.30" width="3.10" height="4.80" fill="#fff"/>
<rect x="513.01" y="76.50" width="3.10" height="4.80" fill="#fff"/>
<rect x="518.90" y="61.30" width="3.10" height="4.80" fill="#fff"/>
<rect x="518.90" y="76.50" width="3.10" height="4.80" fill="#fff"/>
<rect x="524.79" y="61.30" width="3.10" height="4.80" fill="#fff"/>
<rect x="524.79" y="76.50" width="3.10" height="4.80" fill="#fff"/>
<rect x="530.68" y="61.30" width="3.10" height="4.80" fill="#fff"/>
<rect x="530.68" y="76.50" width="3.10" height="4.80" fill="#fff"/>
<rect x="536.57" y="61.30" width="3.10" height="4.80" fill="#fff"/>
<rect x="536.57" y="76.50" width="3.10" height="4.80" fill="#fff"/>
<rect x="462.70" y="68.30" width="32.80" height="5.60" fill="#fff"/>
<rect x="500.50" y="68.30" width="34.10" height="5.60" fill="#fff"/>
<polygon points="541.60,69.10 538.40,69.90 538.40,72.50 541.60,73.30" fill="#fff"/>
<rect x="458.00" y="84.95" width="83.60" height="24.40" fill="#000"/>
<rect x="460.00" y="86.95" width="3.10" height="4.80" fill="#fff"/>
<rect x="460.00" y="102.15" width="3.10" height="4.80" fill="#fff"/>
<rect x="465.89" y="86.95" width="3.10" height="4.80" fill="#fff"/>
<rect x="465.89" y="102.15" width="3.10" height="4.80" fill="#fff"/>
<rect x="471.78" y="86.95" width="3.10" height="4.80" fill="#fff"/>
<rect x="471.78" y="102.15" width="3.10" height="4.80" fill="#fff"/>
<rect x="477.67" y="86.95" width="3.10" height="4.80" fill="#fff"/>
<rect x="477.67" y="102.15" width="3.10" height="4.80" fill="#fff"/>
<rect x="483.56" y="86.95" width="3.10" height="4.80" fill="#fff"/>
<rect x="483.56" y="102.15" width="3.10" height="4.80" fill="#fff"/>
<rect x="489.45" y="86.95" width="3.10" height="4.80" fill="#fff"/>
<rect x="489.45" y="102.15" width="3.10" height="4.80" fill="#fff"/>
<rect x="495.34" y="86.95" width="3.10" height="4.80" fill="#fff"/>
<rect x="495.34" y="102.15" width="3.10" height="4.80" fill="#fff"/>
<rect x="501.23" y="86.95" width="3.10" height="4.80" fill="#fff"/>
<rect x="501.23" y="102.15" width="3.10" height="4.80" fill="#fff"/>
<rect x="507.12" y="86.95" width="3.10" height="4.80" fill="#fff"/>
<rect x="507.12" y="102.15" width="3.10" height="4.80" fill="#fff"/>
<rect x="513.01" y="86.95" width="3.10" height="4.80" fill="#fff"/>
<rect x="513.01" y="102.15" width="3.10" height="4.80" fill="#fff"/>
<rect x="518.90" y="86.95" width="3.10" height="4.80" fill="#fff"/>
<rect x="518.90" y="102.15" width="3.10" height="4.80" fill="#fff"/>
<rect x="524.79" y="86.95" width="3.10" height="4.80" fill="#fff"/>
<rect x="524.79" y="102.15" width="3.10" height="4.80" fill="#fff"/>
<rect x="530.68" y="86.95" width="3.10" height="4.80" fill="#fff"/>
<rect x="530.68" y="102.15" width="3.10" height="4.80" fill="#fff"/>
<rect x="536.57" y="86.95" width="3.10" height="4.80" fill="#fff"/>
<rect x="536.57" y="102.15" width="3.10" height="4.80" fill="#fff"/>
<rect x="462.70" y="93.95" width="32.80" height="5.60" fill="#fff"/>
<rect x="500.50" y="93.95" width="34.10" height="5.60" fill="#fff"/>
<polygon points="541.60,94.75 538.40,95.55 538.40,98.15 541.60,98.95" fill="#fff"/>
<rect x="458.00" y="109.35" width="83.60" height="1.25" fill="#000"/>
<rect x="548.40" y="8.00" width="83.60" height="24.40" fill="#000"/>
<rect x="550.40" y="10.00" width="3.10" height="4.80" fill="#fff"/>
<rect x="550.40" y="25.20" width="3.10" height="4.80" fill="#fff"/>
<rect x="556.29" y="10.00" width="3.10" height="4.80" fill="#fff"/>
<rect x="556.29" y="25.20" width="3.10" height="4.80" fill="#fff"/>
<rect x="562.18" y="10.00" width="3.10" height="4.80" fill="#fff"/>
<rect x="562.18" y="25.20" width="3.10" height="4.80" fill="#fff"/>
<rect x="568.07" y="10.00" width="3.10" height="4.80" fill="#fff"/>
<rect x="568.07" y="25.20" width="3.10" height="4.80" fill="#fff"/>
<rect x="573.96" y="10.00" width="3.10" height="4.80" fill="#fff"/>
<rect x="573.96" y="25.20" width="3.10" height="4.80" fill="#fff"/>
<rect x="579.85" y="10.00" width="3.10" height="4.80" fill="#fff"/>
<rect x="579.85" y="25.20" width="3.10" height="4.80" fill="#fff"/>
<rect x="585.74" y="10.00" width="3.10" height="4.80" fill="#fff"/>
<rect x="585.74" y="25.20" width="3.10" height="4.80" fill="#fff"/>
<rect x="591.63" y="10.00" width="3.10" height="4.80" fill="#fff"/>
<rect x="591.63" y="25.20" width="3.10" height="4.80" fill="#fff"/>
<rect x="597.52" y="10.00" width="3.10" height="4.80" fill="#fff"/>
<rect x="597.52" y="25.20" width="3.10" height="4.80" fill="#fff"/>
<rect x="603.41" y="10.00" width="3.10" height="4.80" fill="#fff"/>
<rect x="603.41" y="25.20" width="3.10" height="4.80" fill="#fff"/>
<rect x="609.30" y="10.00" width="3.10" height="4.80" fill="#fff"/>
<rect x="609.30" y="25.20" width="3.10" height="4.80" fill="#fff"/>
<rect x="615.19" y="10.00" width="3.10" height="4.80" fill="#fff"/>
<rect x="615.19" y="25.20" width="3.10" height="4.80" fill="#fff"/>
<rect x="621.08" y="10.00" width="3.10" height="4.80" fill="#fff"/>
<rect x="621.08" y="25.20" width="3.10" height="4.80" fill="#fff"/>
<rect x="626.97" y="10.00" width="3.10" height="4.80" fill="#fff"/>
<rect x="626.97" y="25.20" width="3.10" height="4.80" fill="#fff"/>
<rect x="553.10" y="17.00" width="32.80" height="5.60" fill="#fff"/>
<rect x="590.90" y="17.00" width="34.10" height="5.60" fill="#fff"/>
<polygon points="632.00,17.80 628.80,18.60 628.80,21.20 632.00,22.00" fill="#fff"/>
<rect x="548.40" y="33.65" width="83.60" height="24.40" fill="#000"/>
<rect x="550.40" y="35.65" width="3.10" height="4.80" fill="#fff"/>
<rect x="550.40" y="50.85" width="3.10" height="4.80" fill="#fff"/>
<rect x="556.29" y="35.65" width="3.10" height="4.80" fill="#fff"/>
<rect x="556.29" y="50.85" width="3.10" height="4.80" fill="#fff"/>
<rect x="562.18" y="35.65" width="3.10" height="4.80" fill="#fff"/>
<rect x="562.18" y="50.85" width="3.10" height="4.80" fill="#fff"/>
<rect x="568.07" y="35.65" width="3.10" height="4.80" fill="#fff"/>
<rect x="568.07" y="50.85" width="3.10" height="4.80" fill="#fff"/>
<rect x="573.96" y="35.65" width="3.10" height="4.80" fill="#fff"/>
<rect x="573.96" y="50.85" width="3.10" height="4.80" fill="#fff"/>
<rect x="579.85" y="35.65" width="3.10" height="4.80" fill="#fff"/>
<rect x="579.85" y="50.85" width="3.10" height="4.80" fill="#fff"/>
<rect x="585.74" y="35.65" width="3.10" height="4.80" fill="#fff"/>
<rect x="585.74" y="50.85" width="3.10" height="4.80" fill="#fff"/>
<rect x="591.63" y="35.65" width="3.10" height="4.80" fill="#fff"/>
<rect x="591.63" y="50.85" width="3.10" height="4.80" fill="#fff"/>
<rect x="597.52" y="35.65" width="3.10" height="4.80" fill="#fff"/>
<rect x="597.52" y="50.85" width="3.10" height="4.80" fill="#fff"/>
<rect x="603.41" y="35.65" width="3.10" height="4.80" fill="#fff"/>
<rect x="603.41" y="50.85" width="3.10" height="4.80" fill="#fff"/>
<rect x="609.30" y="35.65" width="3.10" height="4.80" fill="#fff"/>
<rect x="609.30" y="50.85" width="3.10" height="4.80" fill="#fff"/>
<rect x="615.19" y="35.65" width="3.10" height="4.80" fill="#fff"/>
<rect x="615.19" y="50.85" width="3.10" height="4.80" fill="#fff"/>
<rect x="621.08" y="35.65" width="3.10" height="4.80" fill="#fff"/>
<rect x="621.08" y="50.85" width="3.10" height="4.80" fill="#fff"/>
<rect x="626.97" y="35.65" width="3.10" height="4.80" fill="#fff"/>
<rect x="626.97" y="50.85" width="3.10" height="4.80" fill="#fff"/>
<rect x="553.10" y="42.65" width="32.80" height="5.60" fill="#fff"/>
<rect x="590.90" y="42.65" width="34.10" height="5.60" fill="#fff"/>
<polygon points="632.00,43.45 628.80,44.25 628.80,46.85 632.00,47.65" fill="#fff"/>
<rect x="548.40" y="59.30" width="83.60" height="24.40" fill="#000"/>
<rect x="550.40" y="61.30" width="3.10" height="4.80" fill="#fff"/>
<rect x="550.40" y="76.50" width="3.10" height="4.80" fill="#fff"/>
<rect x="556.29" y="61.30" width="3.10" height="4.80" fill="#fff"/>
<rect x="556.29" y="76.50" width="3.10" height="4.80" fill="#fff"/>
<rect x="562.18" y="61.30" width="3.10" height="4.80" fill="#fff"/>
<rect x="562.18" y="76.50" width="3.10" height="4.80" fill="#fff"/>
<rect x="568.07" y="61.30" width="3.10" height="4.80" fill="#fff"/>
<rect x="568.07" y="76.50" width="3.10" height="4.80" fill="#fff"/>
<rect x="573.96" y="61.30" width="3.10" height="4.80" fill="#fff"/>
<rect x="573.96" y="76.50" width="3.10" height="4.80" fill="#fff"/>
<rect x="579.85" y="61.30" width="3.10" height="4.80" fill="#fff"/>
<rect x="579.85" y="76.50" width="3.10" height="4.80" fill="#fff"/>
<rect x="585.74" y="61.30" width="3.10" height="4.80" fill="#fff"/>
<rect x="585.74" y="76.50" width="3.10" height="4.80" fill="#fff"/>
<rect x="591.63" y="61.30" width="3.10" height="4.80" fill="#fff"/>
<rect x="591.63" y="76.50" width="3.10" height="4.80" fill="#fff"/>
<rect x="597.52" y="61.30" width="3.10" height="4.80" fill="#fff"/>
<rect x="597.52" y="76.50" width="3.10" height="4.80" fill="#fff"/>
<rect x="603.41" y="61.30" width="3.10" height="4.80" fill="#fff"/>
<rect x="603.41" y="76.50" width="3.10" height="4.80" fill="#fff"/>
<rect x="609.30" y="61.30" width="3.10" height="4.80" fill="#fff"/>
<rect x="609.30" y="76.50" width="3.10" height="4.80" fill="#fff"/>
<rect x="615.19" y="61.30" width="3.10" height="4.80" fill="#fff"/>
<rect x="615.19" y="76.50" width="3.10" height="4.80" fill="#fff"/>
<rect x="621.08" y="61.30" width="3.10" height="4.80" fill="#fff"/>
<rect x="621.08" y="76.50" width="3.10" height="4.80" fill="#fff"/>
<rect x="626.97" y="61.30" width="3.10" height="4.80" fill="#fff"/>
<rect x="626.97" y="76.50" width="3.10" height="4.80" fill="#fff"/>
<rect x="553.10" y="68.30" width="32.80" height="5.60" fill="#fff"/>
<rect x="590.90" y="68.30" width="34.10" height="5.60" fill="#fff"/>
<polygon points="632.00,69.10 628.80,69.90 628.80,72.50 632.00,73.30" fill="#fff"/>
<rect x="548.40" y="84.95" width="83.60" height="24.40" fill="#000"/>
<rect x="550.40" y="86.95" width="3.10" height="4.80" fill="#fff"/>
<rect x="550.40" y="102.15" width="3.10" height="4.80" fill="#fff"/>
<rect x="556.29" y="86.95" width="3.10" height="4.80" fill="#fff"/>
<rect x="556.29" y="102.15" width="3.10" height="4.80" fill="#fff"/>
<rect x="562.18" y="86.95" width="3.10" height="4.80" fill="#fff"/>
<rect x="562.18" y="102.15" width="3.10" height="4.80" fill="#fff"/>
<rect x="568.07" y="86.95" width="3.10" height="4.80" fill="#fff"/>
<rect x="568.07" y="102.15" width="3.10" height="4.80" fill="#fff"/>
<rect x="573.96" y="86.95" width="3.10" height="4.80" fill="#fff"/>
<rect x="573.96" y="102.15" width="3.10" height="4.80" fill="#fff"/>
<rect x="579.85" y="86.95" width="3.10" height="4.80" fill="#fff"/>
<rect x="579.85" y="102.15" width="3.10" height="4.80" fill="#fff"/>
<rect x="585.74" y="86.95" width="3.10" height="4.80" fill="#fff"/>
<rect x="585.74" y="102.15" width="3.10" height="4.80" fill="#fff"/>
<rect x="591.63" y="86.95" width="3.10" height="4.80" fill="#fff"/>
<rect x="591.63" y="102.15" width="3.10" height="4.80" fill="#fff"/>
<rect x="597.52" y="86.95" width="3.10" height="4.80" fill="#fff"/>
<rect x="597.52" y="102.15" width="3.10" height="4.80" fill="#fff"/>
<rect x="603.41" y="86.95" width="3.10" height="4.80" fill="#fff"/>
<rect x="603.41" y="102.15" width="3.10" height="4.80" fill="#fff"/>
<rect x="609.30" y="86.95" width="3.10" height="4.80" fill="#fff"/>
<rect x="609.30" y="102.15" width="3.10" height="4.80" fill="#fff"/>
<rect x="615.19" y="86.95" width="3.10" height="4.80" fill="#fff"/>
<rect x="615.19" y="102.15" width="3.10" height="4.80" fill="#fff"/>
<rect x="621.08" y="86.95" width="3.10" height="4.80" fill="#fff"/>
<rect x="621.08" y="102.15" width="3.10" height="4.80" fill="#fff"/>
<rect x="626.97" y="86.95" width="3.10" height="4.80" fill="#fff"/>
<rect x="626.97" y="102.15" width="3.10" height="4.80" fill="#fff"/>
<rect x="553.10" y="93.95" width="32.80" height="5.60" fill="#fff"/>
<rect x="590.90" y="93.95" width="34.10" height="5.60" fill="#fff"/>
<polygon points="632.00,94.75 628.80,95.55 628.80,98.15 632.00,98.95" fill="#fff"/>
<rect x="548.40" y="109.35" width="83.60" height="1.25" fill="#000"/>
<rect x="491.30" y="19.30" width="17.90" height="77.40" rx="3.5" fill="#000" shape-rendering="geometricPrecision"/>
<rect x="492.50" y="20.50" width="15.50" height="75.00" rx="3" fill="#fff" shape-rendering="geometricPrecision"/>
<text transform="translate(500.25,34.50) scale(0.88,1)" font-size="13" text-anchor="middle" textLength="9.85" lengthAdjust="spacing">B</text>
<text transform="translate(500.25,48.90) scale(0.88,1)" font-size="13" text-anchor="middle" textLength="9.85" lengthAdjust="spacing">A</text>
<text transform="translate(500.25,63.30) scale(0.88,1)" font-size="13" text-anchor="middle" textLength="10.67" lengthAdjust="spacing">N</text>
<text transform="translate(500.25,77.70) scale(0.88,1)" font-size="13" text-anchor="middle" textLength="9.85" lengthAdjust="spacing">K</text>
<text transform="translate(500.25,92.10) scale(0.88,1)" font-size="13" text-anchor="middle" textLength="8.21" lengthAdjust="spacing">1</text>
<rect x="580.30" y="19.30" width="18.40" height="77.40" rx="3.5" fill="#000" shape-rendering="geometricPrecision"/>
<rect x="581.50" y="20.50" width="16.00" height="75.00" rx="3" fill="#fff" shape-rendering="geometricPrecision"/>
<text transform="translate(589.50,34.50) scale(0.88,1)" font-size="13" text-anchor="middle" textLength="9.85" lengthAdjust="spacing">B</text>
<text transform="translate(589.50,48.90) scale(0.88,1)" font-size="13" text-anchor="middle" textLength="9.85" lengthAdjust="spacing">A</text>
<text transform="translate(589.50,63.30) scale(0.88,1)" font-size="13" text-anchor="middle" textLength="10.67" lengthAdjust="spacing">N</text>
<text transform="translate(589.50,77.70) scale(0.88,1)" font-size="13" text-anchor="middle" textLength="9.85" lengthAdjust="spacing">K</text>
<text transform="translate(589.50,92.10) scale(0.88,1)" font-size="13" text-anchor="middle" textLength="8.21" lengthAdjust="spacing">0</text>
<rect x="520.00" y="50.50" width="49.50" height="16.00" fill="#000"/>
<rect x="521.50" y="51.80" width="46.50" height="13.40" fill="#fff"/>
<text transform="translate(544.80,63.30) scale(0.88,1)" font-size="13" text-anchor="middle" textLength="48.86" lengthAdjust="spacing">CACHE</text>
<text transform="translate(669.00,54.80) scale(0.88,1)" font-size="11" text-anchor="start" textLength="48.86" lengthAdjust="spacing">MH2873</text>
<rect x="642.00" y="125.90" width="12.00" height="19.00" fill="#000"/>
<rect x="648.40" y="118.90" width="5.60" height="7.10" fill="#000"/>
<rect x="649.00" y="120.00" width="4.00" height="0.90" fill="#fff"/>
<rect x="649.00" y="125.90" width="4.00" height="0.90" fill="#fff"/>
<rect x="643.00" y="132.00" width="5.00" height="1.00" fill="#fff"/>
<rect x="649.00" y="131.00" width="4.00" height="2.20" fill="#fff"/>
<rect x="643.00" y="136.90" width="5.00" height="1.90" fill="#fff"/>
<rect x="649.00" y="136.90" width="4.00" height="1.90" fill="#fff"/>
<rect x="644.00" y="140.00" width="3.00" height="1.80" fill="#fff"/>
<rect x="650.00" y="140.00" width="2.00" height="1.80" fill="#fff"/>
<rect x="643.00" y="142.90" width="5.00" height="0.90" fill="#fff"/>
<rect x="649.00" y="142.90" width="4.00" height="0.90" fill="#fff"/>
<rect x="553.60" y="117.60" width="58.80" height="18.20" rx="3.5" fill="#000" shape-rendering="geometricPrecision"/>
<rect x="555.80" y="119.60" width="54.40" height="13.40" rx="2" fill="#fff" shape-rendering="geometricPrecision"/>
<text transform="translate(583.00,131.30) scale(0.88,1)" font-size="13" text-anchor="middle" textLength="52.27" lengthAdjust="spacing">BANK 1</text>
<rect x="553.60" y="139.60" width="58.80" height="18.20" rx="3.5" fill="#000" shape-rendering="geometricPrecision"/>
<rect x="555.80" y="141.60" width="54.40" height="13.40" rx="2" fill="#fff" shape-rendering="geometricPrecision"/>
<text transform="translate(583.00,153.30) scale(0.88,1)" font-size="13" text-anchor="middle" textLength="52.27" lengthAdjust="spacing">BANK 0</text>
<path d="M546.5 152.5 V156.5 Q546.5 159.5 549.5 159.5 H578.5 L582.5 165 L586.5 159.5 H614.5 Q617.5 159.5 617.5 156.5 V152.5" fill="none" stroke="#000" stroke-width="1.15" shape-rendering="geometricPrecision"/>
<rect x="557.00" y="167.00" width="50.60" height="16.80" rx="3.5" fill="#000" shape-rendering="geometricPrecision"/>
<rect x="559.20" y="169.00" width="46.20" height="12.00" rx="2" fill="#fff" shape-rendering="geometricPrecision"/>
<text transform="translate(582.30,180.00) scale(0.88,1)" font-size="13" text-anchor="middle" textLength="42.05" lengthAdjust="spacing">VRAM</text>
<rect x="408.00" y="167.00" width="7.00" height="19.00" fill="#000"/>
<rect x="409.00" y="172.00" width="5.00" height="2.00" fill="#fff"/>
<rect x="409.00" y="178.00" width="5.00" height="1.00" fill="#fff"/>
<rect x="410.00" y="180.00" width="3.00" height="3.00" fill="#fff"/>
<rect x="409.00" y="184.00" width="5.00" height="1.00" fill="#fff"/>
<rect x="630.00" y="163.00" width="87.60" height="41.40" fill="#000"/>
<rect x="654.00" y="176.00" width="40.00" height="15.00" fill="#fff"/>
<text transform="translate(674.00,188.20) scale(0.88,1)" font-size="13" text-anchor="middle" textLength="34.09" lengthAdjust="spacing">BIOS</text>
<rect x="591.00" y="209.60" width="126.60" height="41.40" fill="#000"/>
<rect x="600.00" y="250.00" width="3.20" height="1.00" fill="#fff"/>
<rect x="605.20" y="250.00" width="3.20" height="1.00" fill="#fff"/>
<rect x="610.40" y="250.00" width="3.20" height="1.00" fill="#fff"/>
<rect x="615.60" y="250.00" width="3.20" height="1.00" fill="#fff"/>
<rect x="620.80" y="250.00" width="3.20" height="1.00" fill="#fff"/>
<rect x="626.00" y="250.00" width="3.20" height="1.00" fill="#fff"/>
<rect x="631.20" y="250.00" width="3.20" height="1.00" fill="#fff"/>
<rect x="636.40" y="250.00" width="3.20" height="1.00" fill="#fff"/>
<rect x="641.60" y="250.00" width="3.20" height="1.00" fill="#fff"/>
<rect x="646.80" y="250.00" width="3.20" height="1.00" fill="#fff"/>
<rect x="652.00" y="250.00" width="3.20" height="1.00" fill="#fff"/>
<rect x="657.20" y="250.00" width="3.20" height="1.00" fill="#fff"/>
<rect x="662.40" y="250.00" width="3.20" height="1.00" fill="#fff"/>
<rect x="667.60" y="250.00" width="3.20" height="1.00" fill="#fff"/>
<rect x="672.80" y="250.00" width="3.20" height="1.00" fill="#fff"/>
<rect x="678.00" y="250.00" width="3.20" height="1.00" fill="#fff"/>
<rect x="683.20" y="250.00" width="3.20" height="1.00" fill="#fff"/>
<rect x="688.40" y="250.00" width="3.20" height="1.00" fill="#fff"/>
<rect x="641.00" y="223.60" width="28.00" height="14.00" fill="#fff"/>
<text transform="translate(655.00,235.40) scale(0.88,1)" font-size="13" text-anchor="middle" textLength="28.41" lengthAdjust="spacing">KBD</text>
<rect x="598.00" y="251.00" width="25.00" height="17.20" fill="#000"/>
<rect x="599.50" y="252.50" width="21.00" height="14.30" fill="#fff"/>
<polygon points="638.00,258.55 631.11,258.00 621.60,255.70 621.60,263.30 631.11,261.00 638.00,260.45" fill="#000" shape-rendering="geometricPrecision"/>
<polygon points="628.49,259.50 621.60,257.20 619.60,257.20 619.60,261.80 621.60,261.80" fill="#fff" shape-rendering="geometricPrecision"/>
<rect x="599.50" y="256.50" width="21.50" height="6.00" fill="#fff"/>
<text transform="translate(608.30,264.00) scale(0.88,1)" font-size="13" text-anchor="middle" textLength="14.20" lengthAdjust="spacing">J7</text>
<rect x="638.00" y="256.00" width="19.00" height="6.60" fill="#000"/>
<rect x="643.00" y="257.20" width="2.00" height="4.30" fill="#fff"/>
<rect x="648.00" y="257.20" width="2.60" height="4.30" fill="#fff"/>
<rect x="652.00" y="257.20" width="3.80" height="4.30" fill="#fff"/>
<rect x="653.10" y="258.30" width="1.50" height="2.10" fill="#000"/>
<rect x="663.00" y="253.00" width="13.40" height="6.80" fill="#000"/>
<rect x="664.00" y="254.00" width="11.40" height="4.80" fill="#fff"/>
<rect x="665.80" y="254.00" width="1.80" height="4.80" fill="#000"/>
<rect x="669.60" y="254.00" width="2.00" height="4.80" fill="#000"/>
<rect x="673.00" y="254.00" width="3.00" height="4.80" fill="#000"/>
<rect x="441.70" y="268.00" width="278.10" height="20.00" fill="#000"/>
<rect x="451.80" y="275.50" width="257.20" height="5.70" fill="#fff"/>
<rect x="565" y="270.3" width="30.5" height="14.2" rx="2.5" fill="#fff" shape-rendering="geometricPrecision"/>
<text transform="translate(580.30,282.20) scale(0.88,1)" font-size="13" text-anchor="middle" textLength="27.27" lengthAdjust="spacing">SL1</text>
<rect x="773.00" y="42.50" width="18.00" height="5.20" fill="#000"/>
<rect x="774.00" y="43.50" width="16.00" height="3.20" fill="#fff"/>
<rect x="773.00" y="96.30" width="18.00" height="5.20" fill="#000"/>
<rect x="774.00" y="97.30" width="16.00" height="3.20" fill="#fff"/>
<rect x="747.00" y="50.20" width="35.00" height="43.60" fill="#000"/>
<rect x="774.60" y="38.60" width="7.40" height="67.40" fill="#000"/>
<path d="M782 50.5 H795.0 L797.5 53.0 V90.0 L795.0 92.5 H782" fill="#fff" stroke="#000" stroke-width="1.1" shape-rendering="geometricPrecision"/>
<rect x="771.00" y="117.50" width="17.00" height="6.20" fill="#000"/>
<rect x="772.00" y="118.50" width="15.00" height="4.20" fill="#fff"/>
<rect x="771.00" y="207.00" width="17.00" height="6.00" fill="#000"/>
<rect x="772.00" y="208.00" width="15.00" height="4.00" fill="#fff"/>
<rect x="751.20" y="125.70" width="30.80" height="79.30" fill="#000"/>
<rect x="775.60" y="116.00" width="6.40" height="98.00" fill="#000"/>
<path d="M782 126.5 H792.0 L794.5 129.0 V202.0 L792.0 204.5 H782" fill="#fff" stroke="#000" stroke-width="1.1" shape-rendering="geometricPrecision"/>
<rect x="779.00" y="117.00" width="1.00" height="95.70" fill="#fff"/>
<rect x="772.00" y="229.20" width="18.50" height="6.10" fill="#000"/>
<rect x="773.00" y="230.20" width="16.50" height="4.10" fill="#fff"/>
<rect x="772.00" y="283.40" width="18.50" height="5.40" fill="#000"/>
<rect x="773.00" y="284.40" width="16.50" height="3.40" fill="#fff"/>
<rect x="746.00" y="237.00" width="36.00" height="44.80" fill="#000"/>
<rect x="773.80" y="225.80" width="8.20" height="67.70" fill="#000"/>
<path d="M782 238.5 H794.0 L796.5 241.0 V276.0 L794.0 278.5 H782" fill="#fff" stroke="#000" stroke-width="1.1" shape-rendering="geometricPrecision"/>
<rect x="772.00" y="315.20" width="18.50" height="6.10" fill="#000"/>
<rect x="773.00" y="316.20" width="16.50" height="4.10" fill="#fff"/>
<rect x="772.00" y="369.30" width="18.50" height="6.10" fill="#000"/>
<rect x="773.00" y="370.30" width="16.50" height="4.10" fill="#fff"/>
<rect x="747.00" y="322.90" width="35.00" height="44.40" fill="#000"/>
<rect x="773.80" y="312.20" width="8.20" height="66.60" fill="#000"/>
<path d="M782 325.5 H795.0 L797.5 328.0 V362.0 L795.0 364.5 H782" fill="#fff" stroke="#000" stroke-width="1.1" shape-rendering="geometricPrecision"/>
<rect x="742.50" y="397.00" width="39.50" height="39.40" fill="#000"/>
<rect x="743.50" y="398.00" width="37.50" height="37.40" fill="#fff"/>
<rect x="775.50" y="397.00" width="6.50" height="39.40" fill="#000"/>
<rect x="751.20" y="453.00" width="24.80" height="37.00" fill="#000"/>
<rect x="748.00" y="460.00" width="4.00" height="25.00" fill="#000"/>
<rect x="775.50" y="446.20" width="6.50" height="51.40" fill="#000"/>
<rect x="773.00" y="449.50" width="3.00" height="44.00" fill="#000"/>
<rect x="775.50" y="493.50" width="2.50" height="2.30" fill="#000"/>
<rect x="743.80" y="462.00" width="5.80" height="8.00" fill="#000"/>
<rect x="744.80" y="463.00" width="3.80" height="6.00" fill="#fff"/>
<rect x="743.80" y="473.80" width="5.80" height="8.60" fill="#000"/>
<rect x="744.80" y="474.80" width="3.80" height="6.60" fill="#fff"/>
<rect x="599.00" y="461.80" width="112.80" height="25.00" fill="#000"/>
<rect x="600.00" y="462.80" width="110.80" height="23.00" fill="#fff"/>
<rect x="599.00" y="471.00" width="112.80" height="1.00" fill="#000"/>
<rect x="602.40" y="464.60" width="5.20" height="2.80" fill="#000"/>
<rect x="603.40" y="465.50" width="3.20" height="1.00" fill="#fff"/>
<rect x="601.40" y="467.40" width="7.20" height="1.20" fill="#000"/>
<rect x="601.60" y="473.20" width="6.80" height="1.40" fill="#000"/>
<rect x="601.80" y="476.00" width="6.40" height="8.20" fill="#000"/>
<rect x="602.80" y="477.00" width="4.40" height="6.20" fill="#fff"/>
<rect x="611.57" y="464.60" width="5.20" height="2.80" fill="#000"/>
<rect x="612.57" y="465.50" width="3.20" height="1.00" fill="#fff"/>
<rect x="610.57" y="467.40" width="7.20" height="1.20" fill="#000"/>
<rect x="610.77" y="473.20" width="6.80" height="1.40" fill="#000"/>
<rect x="610.97" y="476.00" width="6.40" height="8.20" fill="#000"/>
<rect x="611.97" y="477.00" width="4.40" height="6.20" fill="#fff"/>
<rect x="620.74" y="464.60" width="5.20" height="2.80" fill="#000"/>
<rect x="621.74" y="465.50" width="3.20" height="1.00" fill="#fff"/>
<rect x="619.74" y="467.40" width="7.20" height="1.20" fill="#000"/>
<rect x="619.94" y="473.20" width="6.80" height="1.40" fill="#000"/>
<rect x="620.14" y="476.00" width="6.40" height="8.20" fill="#000"/>
<rect x="621.14" y="477.00" width="4.40" height="6.20" fill="#fff"/>
<rect x="629.91" y="464.60" width="5.20" height="2.80" fill="#000"/>
<rect x="630.91" y="465.50" width="3.20" height="1.00" fill="#fff"/>
<rect x="628.91" y="467.40" width="7.20" height="1.20" fill="#000"/>
<rect x="629.11" y="473.20" width="6.80" height="1.40" fill="#000"/>
<rect x="629.31" y="476.00" width="6.40" height="8.20" fill="#000"/>
<rect x="630.31" y="477.00" width="4.40" height="6.20" fill="#fff"/>
<rect x="639.08" y="464.60" width="5.20" height="2.80" fill="#000"/>
<rect x="640.08" y="465.50" width="3.20" height="1.00" fill="#fff"/>
<rect x="638.08" y="467.40" width="7.20" height="1.20" fill="#000"/>
<rect x="638.28" y="473.20" width="6.80" height="1.40" fill="#000"/>
<rect x="638.48" y="476.00" width="6.40" height="8.20" fill="#000"/>
<rect x="639.48" y="477.00" width="4.40" height="6.20" fill="#fff"/>
<rect x="648.25" y="464.60" width="5.20" height="2.80" fill="#000"/>
<rect x="649.25" y="465.50" width="3.20" height="1.00" fill="#fff"/>
<rect x="647.25" y="467.40" width="7.20" height="1.20" fill="#000"/>
<rect x="647.45" y="473.20" width="6.80" height="1.40" fill="#000"/>
<rect x="647.65" y="476.00" width="6.40" height="8.20" fill="#000"/>
<rect x="648.65" y="477.00" width="4.40" height="6.20" fill="#fff"/>
<rect x="657.42" y="464.60" width="5.20" height="2.80" fill="#000"/>
<rect x="658.42" y="465.50" width="3.20" height="1.00" fill="#fff"/>
<rect x="656.42" y="467.40" width="7.20" height="1.20" fill="#000"/>
<rect x="656.62" y="473.20" width="6.80" height="1.40" fill="#000"/>
<rect x="656.82" y="476.00" width="6.40" height="8.20" fill="#000"/>
<rect x="657.82" y="477.00" width="4.40" height="6.20" fill="#fff"/>
<rect x="666.59" y="464.60" width="5.20" height="2.80" fill="#000"/>
<rect x="667.59" y="465.50" width="3.20" height="1.00" fill="#fff"/>
<rect x="665.59" y="467.40" width="7.20" height="1.20" fill="#000"/>
<rect x="665.79" y="473.20" width="6.80" height="1.40" fill="#000"/>
<rect x="665.99" y="476.00" width="6.40" height="8.20" fill="#000"/>
<rect x="666.99" y="477.00" width="4.40" height="6.20" fill="#fff"/>
<rect x="675.76" y="464.60" width="5.20" height="2.80" fill="#000"/>
<rect x="676.76" y="465.50" width="3.20" height="1.00" fill="#fff"/>
<rect x="674.76" y="467.40" width="7.20" height="1.20" fill="#000"/>
<rect x="674.96" y="473.20" width="6.80" height="1.40" fill="#000"/>
<rect x="675.16" y="476.00" width="6.40" height="8.20" fill="#000"/>
<rect x="676.16" y="477.00" width="4.40" height="6.20" fill="#fff"/>
<rect x="684.93" y="464.60" width="5.20" height="2.80" fill="#000"/>
<rect x="685.93" y="465.50" width="3.20" height="1.00" fill="#fff"/>
<rect x="683.93" y="467.40" width="7.20" height="1.20" fill="#000"/>
<rect x="684.13" y="473.20" width="6.80" height="1.40" fill="#000"/>
<rect x="684.33" y="476.00" width="6.40" height="8.20" fill="#000"/>
<rect x="685.33" y="477.00" width="4.40" height="6.20" fill="#fff"/>
<rect x="694.10" y="464.60" width="5.20" height="2.80" fill="#000"/>
<rect x="695.10" y="465.50" width="3.20" height="1.00" fill="#fff"/>
<rect x="693.10" y="467.40" width="7.20" height="1.20" fill="#000"/>
<rect x="693.30" y="473.20" width="6.80" height="1.40" fill="#000"/>
<rect x="693.50" y="476.00" width="6.40" height="8.20" fill="#000"/>
<rect x="694.50" y="477.00" width="4.40" height="6.20" fill="#fff"/>
<rect x="703.27" y="464.60" width="5.20" height="2.80" fill="#000"/>
<rect x="704.27" y="465.50" width="3.20" height="1.00" fill="#fff"/>
<rect x="702.27" y="467.40" width="7.20" height="1.20" fill="#000"/>
<rect x="702.47" y="473.20" width="6.80" height="1.40" fill="#000"/>
<rect x="702.67" y="476.00" width="6.40" height="8.20" fill="#000"/>
<rect x="703.67" y="477.00" width="4.40" height="6.20" fill="#fff"/>
<rect x="599.00" y="477.50" width="1.80" height="1.00" fill="#fff"/>
<rect x="599.00" y="481.50" width="1.80" height="1.00" fill="#fff"/>
<rect x="600.60" y="478.50" width="1.00" height="3.00" fill="#000"/>
<rect x="710.00" y="477.50" width="1.80" height="1.00" fill="#fff"/>
<rect x="710.00" y="481.50" width="1.80" height="1.00" fill="#fff"/>
<rect x="709.40" y="478.50" width="1.00" height="3.00" fill="#000"/>
<rect x="476.00" y="312.00" width="13.00" height="118.80" fill="#000"/>
<rect x="477.00" y="313.00" width="11.00" height="116.80" fill="#fff"/>
<rect x="476.00" y="314.00" width="6.00" height="4.73" fill="#000"/>
<rect x="483.00" y="314.00" width="4.00" height="4.73" fill="#000"/>
<rect x="476.00" y="319.83" width="6.00" height="4.73" fill="#000"/>
<rect x="483.00" y="319.83" width="4.00" height="4.73" fill="#000"/>
<rect x="476.00" y="325.66" width="6.00" height="4.73" fill="#000"/>
<rect x="483.00" y="325.66" width="4.00" height="4.73" fill="#000"/>
<rect x="476.00" y="331.49" width="6.00" height="4.73" fill="#000"/>
<rect x="483.00" y="331.49" width="4.00" height="4.73" fill="#000"/>
<rect x="476.00" y="337.32" width="6.00" height="4.73" fill="#000"/>
<rect x="483.00" y="337.32" width="4.00" height="4.73" fill="#000"/>
<rect x="476.00" y="343.15" width="6.00" height="4.73" fill="#000"/>
<rect x="483.00" y="343.15" width="4.00" height="4.73" fill="#000"/>
<rect x="476.00" y="348.98" width="6.00" height="4.73" fill="#000"/>
<rect x="483.00" y="348.98" width="4.00" height="4.73" fill="#000"/>
<rect x="476.00" y="354.81" width="6.00" height="4.73" fill="#000"/>
<rect x="483.00" y="354.81" width="4.00" height="4.73" fill="#000"/>
<rect x="476.00" y="360.64" width="6.00" height="4.73" fill="#000"/>
<rect x="483.00" y="360.64" width="4.00" height="4.73" fill="#000"/>
<rect x="476.00" y="366.47" width="6.00" height="4.73" fill="#000"/>
<rect x="483.00" y="366.47" width="4.00" height="4.73" fill="#000"/>
<rect x="476.00" y="372.30" width="6.00" height="4.73" fill="#000"/>
<rect x="483.00" y="372.30" width="4.00" height="4.73" fill="#000"/>
<rect x="476.00" y="378.13" width="6.00" height="4.73" fill="#000"/>
<rect x="483.00" y="378.13" width="4.00" height="4.73" fill="#000"/>
<rect x="476.00" y="383.96" width="6.00" height="4.73" fill="#000"/>
<rect x="483.00" y="383.96" width="4.00" height="4.73" fill="#000"/>
<rect x="476.00" y="389.79" width="6.00" height="4.73" fill="#000"/>
<rect x="483.00" y="389.79" width="4.00" height="4.73" fill="#000"/>
<rect x="476.00" y="395.62" width="6.00" height="4.73" fill="#000"/>
<rect x="483.00" y="395.62" width="4.00" height="4.73" fill="#000"/>
<rect x="476.00" y="401.45" width="6.00" height="4.73" fill="#000"/>
<rect x="483.00" y="401.45" width="4.00" height="4.73" fill="#000"/>
<rect x="476.00" y="407.28" width="6.00" height="4.73" fill="#000"/>
<rect x="483.00" y="407.28" width="4.00" height="4.73" fill="#000"/>
<rect x="476.00" y="413.11" width="6.00" height="4.73" fill="#000"/>
<rect x="483.00" y="413.11" width="4.00" height="4.73" fill="#000"/>
<rect x="476.00" y="418.94" width="6.00" height="4.73" fill="#000"/>
<rect x="483.00" y="418.94" width="4.00" height="4.73" fill="#000"/>
<rect x="476.00" y="424.77" width="6.00" height="4.73" fill="#000"/>
<rect x="483.00" y="424.77" width="4.00" height="4.73" fill="#000"/>
<rect x="484.10" y="425.87" width="1.80" height="2.53" fill="#fff"/>
<rect x="493.00" y="330.00" width="13.00" height="100.80" fill="#000"/>
<rect x="494.00" y="331.00" width="11.00" height="98.80" fill="#fff"/>
<rect x="493.00" y="332.00" width="6.00" height="4.73" fill="#000"/>
<rect x="500.00" y="332.00" width="4.00" height="4.73" fill="#000"/>
<rect x="493.00" y="337.83" width="6.00" height="4.73" fill="#000"/>
<rect x="500.00" y="337.83" width="4.00" height="4.73" fill="#000"/>
<rect x="493.00" y="343.66" width="6.00" height="4.73" fill="#000"/>
<rect x="500.00" y="343.66" width="4.00" height="4.73" fill="#000"/>
<rect x="493.00" y="349.49" width="6.00" height="4.73" fill="#000"/>
<rect x="500.00" y="349.49" width="4.00" height="4.73" fill="#000"/>
<rect x="493.00" y="355.32" width="6.00" height="4.73" fill="#000"/>
<rect x="500.00" y="355.32" width="4.00" height="4.73" fill="#000"/>
<rect x="493.00" y="361.15" width="6.00" height="4.73" fill="#000"/>
<rect x="500.00" y="361.15" width="4.00" height="4.73" fill="#000"/>
<rect x="493.00" y="366.98" width="6.00" height="4.73" fill="#000"/>
<rect x="500.00" y="366.98" width="4.00" height="4.73" fill="#000"/>
<rect x="493.00" y="372.81" width="6.00" height="4.73" fill="#000"/>
<rect x="500.00" y="372.81" width="4.00" height="4.73" fill="#000"/>
<rect x="493.00" y="378.64" width="6.00" height="4.73" fill="#000"/>
<rect x="500.00" y="378.64" width="4.00" height="4.73" fill="#000"/>
<rect x="493.00" y="384.47" width="6.00" height="4.73" fill="#000"/>
<rect x="500.00" y="384.47" width="4.00" height="4.73" fill="#000"/>
<rect x="493.00" y="390.30" width="6.00" height="4.73" fill="#000"/>
<rect x="500.00" y="390.30" width="4.00" height="4.73" fill="#000"/>
<rect x="493.00" y="396.13" width="6.00" height="4.73" fill="#000"/>
<rect x="500.00" y="396.13" width="4.00" height="4.73" fill="#000"/>
<rect x="493.00" y="401.96" width="6.00" height="4.73" fill="#000"/>
<rect x="500.00" y="401.96" width="4.00" height="4.73" fill="#000"/>
<rect x="493.00" y="407.79" width="6.00" height="4.73" fill="#000"/>
<rect x="500.00" y="407.79" width="4.00" height="4.73" fill="#000"/>
<rect x="493.00" y="413.62" width="6.00" height="4.73" fill="#000"/>
<rect x="500.00" y="413.62" width="4.00" height="4.73" fill="#000"/>
<rect x="493.00" y="419.45" width="6.00" height="4.73" fill="#000"/>
<rect x="500.00" y="419.45" width="4.00" height="4.73" fill="#000"/>
<rect x="493.00" y="425.28" width="6.00" height="4.73" fill="#000"/>
<rect x="500.00" y="425.28" width="4.00" height="4.73" fill="#000"/>
<rect x="501.10" y="426.38" width="1.80" height="2.53" fill="#fff"/>
<rect x="465.40" y="321.00" width="5.60" height="12.40" fill="#000"/>
<rect x="466.40" y="322.20" width="3.60" height="1.20" fill="#fff"/>
<rect x="466.40" y="326.20" width="3.60" height="1.20" fill="#fff"/>
<rect x="509.00" y="330.30" width="12.70" height="18.70" fill="#000"/>
<rect x="520.20" y="331.00" width="0.80" height="17.00" fill="#fff"/>
<rect x="510.40" y="347.20" width="10.60" height="0.80" fill="#fff"/>
<rect x="510.40" y="335.30" width="4.50" height="1.70" fill="#fff"/>
<rect x="510.40" y="343.20" width="4.50" height="3.40" fill="#fff"/>
<rect x="511.80" y="344.20" width="1.70" height="1.50" fill="#000"/>
<rect x="516.00" y="335.30" width="4.00" height="1.70" fill="#fff"/>
<rect x="516.00" y="343.20" width="4.00" height="3.40" fill="#fff"/>
<rect x="517.40" y="344.20" width="1.20" height="1.50" fill="#000"/>
<rect x="510.40" y="340.20" width="9.60" height="0.90" fill="#fff"/>
<rect x="201.00" y="173.00" width="31.00" height="13.00" fill="#000"/>
<rect x="219.00" y="167.00" width="13.00" height="7.00" fill="#000"/>
<rect x="202.00" y="177.00" width="1.00" height="8.00" fill="#fff"/>
<rect x="202.00" y="184.00" width="29.00" height="1.00" fill="#fff"/>
<rect x="204.50" y="179.60" width="4.00" height="1.00" fill="#fff"/>
<rect x="210.00" y="179.60" width="4.00" height="1.00" fill="#fff"/>
<rect x="215.50" y="179.60" width="2.70" height="1.00" fill="#fff"/>
<rect x="220.60" y="179.00" width="4.00" height="2.80" fill="#fff"/>
<rect x="226.40" y="179.00" width="4.00" height="2.80" fill="#fff"/>
<rect x="222.00" y="173.00" width="3.20" height="1.00" fill="#fff"/>
<rect x="227.00" y="173.00" width="3.80" height="1.00" fill="#fff"/>
<rect x="75.50" y="169.00" width="107.00" height="104.00" fill="#000"/>
<rect x="78.60" y="173.60" width="3.20" height="3.20" fill="#fff"/>
<rect x="85.40" y="173.60" width="3.20" height="3.20" fill="#fff"/>
<rect x="92.20" y="173.60" width="3.20" height="3.20" fill="#fff"/>
<rect x="99.00" y="173.60" width="3.20" height="3.20" fill="#fff"/>
<rect x="105.80" y="173.60" width="3.20" height="3.20" fill="#fff"/>
<rect x="112.60" y="173.60" width="3.20" height="3.20" fill="#fff"/>
<rect x="119.40" y="173.60" width="3.20" height="3.20" fill="#fff"/>
<rect x="126.20" y="173.60" width="3.20" height="3.20" fill="#fff"/>
<rect x="133.00" y="173.60" width="3.20" height="3.20" fill="#fff"/>
<rect x="139.80" y="173.60" width="3.20" height="3.20" fill="#fff"/>
<rect x="146.60" y="173.60" width="3.20" height="3.20" fill="#fff"/>
<rect x="153.40" y="173.60" width="3.20" height="3.20" fill="#fff"/>
<rect x="160.20" y="173.60" width="3.20" height="3.20" fill="#fff"/>
<rect x="167.00" y="173.60" width="3.20" height="3.20" fill="#fff"/>
<rect x="173.80" y="173.60" width="3.20" height="3.20" fill="#fff"/>
<rect x="78.60" y="180.16" width="3.20" height="3.20" fill="#fff"/>
<rect x="85.40" y="180.16" width="3.20" height="3.20" fill="#fff"/>
<rect x="92.20" y="180.16" width="3.20" height="3.20" fill="#fff"/>
<rect x="99.00" y="180.16" width="3.20" height="3.20" fill="#fff"/>
<rect x="105.80" y="180.16" width="3.20" height="3.20" fill="#fff"/>
<rect x="112.60" y="180.16" width="3.20" height="3.20" fill="#fff"/>
<rect x="119.40" y="180.16" width="3.20" height="3.20" fill="#fff"/>
<rect x="126.20" y="180.16" width="3.20" height="3.20" fill="#fff"/>
<rect x="133.00" y="180.16" width="3.20" height="3.20" fill="#fff"/>
<rect x="139.80" y="180.16" width="3.20" height="3.20" fill="#fff"/>
<rect x="146.60" y="180.16" width="3.20" height="3.20" fill="#fff"/>
<rect x="153.40" y="180.16" width="3.20" height="3.20" fill="#fff"/>
<rect x="160.20" y="180.16" width="3.20" height="3.20" fill="#fff"/>
<rect x="167.00" y="180.16" width="3.20" height="3.20" fill="#fff"/>
<rect x="173.80" y="180.16" width="3.20" height="3.20" fill="#fff"/>
<rect x="78.60" y="186.72" width="3.20" height="3.20" fill="#fff"/>
<rect x="85.40" y="186.72" width="3.20" height="3.20" fill="#fff"/>
<rect x="92.20" y="186.72" width="3.20" height="3.20" fill="#fff"/>
<rect x="99.00" y="186.72" width="3.20" height="3.20" fill="#fff"/>
<rect x="105.80" y="186.72" width="3.20" height="3.20" fill="#fff"/>
<rect x="112.60" y="186.72" width="3.20" height="3.20" fill="#fff"/>
<rect x="119.40" y="186.72" width="3.20" height="3.20" fill="#fff"/>
<rect x="126.20" y="186.72" width="3.20" height="3.20" fill="#fff"/>
<rect x="133.00" y="186.72" width="3.20" height="3.20" fill="#fff"/>
<rect x="139.80" y="186.72" width="3.20" height="3.20" fill="#fff"/>
<rect x="146.60" y="186.72" width="3.20" height="3.20" fill="#fff"/>
<rect x="153.40" y="186.72" width="3.20" height="3.20" fill="#fff"/>
<rect x="160.20" y="186.72" width="3.20" height="3.20" fill="#fff"/>
<rect x="167.00" y="186.72" width="3.20" height="3.20" fill="#fff"/>
<rect x="173.80" y="186.72" width="3.20" height="3.20" fill="#fff"/>
<rect x="78.60" y="193.28" width="3.20" height="3.20" fill="#fff"/>
<rect x="85.40" y="193.28" width="3.20" height="3.20" fill="#fff"/>
<rect x="92.20" y="193.28" width="3.20" height="3.20" fill="#fff"/>
<rect x="160.20" y="193.28" width="3.20" height="3.20" fill="#fff"/>
<rect x="167.00" y="193.28" width="3.20" height="3.20" fill="#fff"/>
<rect x="173.80" y="193.28" width="3.20" height="3.20" fill="#fff"/>
<rect x="78.60" y="199.84" width="3.20" height="3.20" fill="#fff"/>
<rect x="85.40" y="199.84" width="3.20" height="3.20" fill="#fff"/>
<rect x="92.20" y="199.84" width="3.20" height="3.20" fill="#fff"/>
<rect x="160.20" y="199.84" width="3.20" height="3.20" fill="#fff"/>
<rect x="167.00" y="199.84" width="3.20" height="3.20" fill="#fff"/>
<rect x="173.80" y="199.84" width="3.20" height="3.20" fill="#fff"/>
<rect x="78.60" y="206.40" width="3.20" height="3.20" fill="#fff"/>
<rect x="85.40" y="206.40" width="3.20" height="3.20" fill="#fff"/>
<rect x="92.20" y="206.40" width="3.20" height="3.20" fill="#fff"/>
<rect x="160.20" y="206.40" width="3.20" height="3.20" fill="#fff"/>
<rect x="167.00" y="206.40" width="3.20" height="3.20" fill="#fff"/>
<rect x="173.80" y="206.40" width="3.20" height="3.20" fill="#fff"/>
<rect x="78.60" y="212.96" width="3.20" height="3.20" fill="#fff"/>
<rect x="85.40" y="212.96" width="3.20" height="3.20" fill="#fff"/>
<rect x="92.20" y="212.96" width="3.20" height="3.20" fill="#fff"/>
<rect x="160.20" y="212.96" width="3.20" height="3.20" fill="#fff"/>
<rect x="167.00" y="212.96" width="3.20" height="3.20" fill="#fff"/>
<rect x="173.80" y="212.96" width="3.20" height="3.20" fill="#fff"/>
<rect x="78.60" y="219.52" width="3.20" height="3.20" fill="#fff"/>
<rect x="85.40" y="219.52" width="3.20" height="3.20" fill="#fff"/>
<rect x="92.20" y="219.52" width="3.20" height="3.20" fill="#fff"/>
<rect x="160.20" y="219.52" width="3.20" height="3.20" fill="#fff"/>
<rect x="167.00" y="219.52" width="3.20" height="3.20" fill="#fff"/>
<rect x="173.80" y="219.52" width="3.20" height="3.20" fill="#fff"/>
<rect x="78.60" y="226.08" width="3.20" height="3.20" fill="#fff"/>
<rect x="85.40" y="226.08" width="3.20" height="3.20" fill="#fff"/>
<rect x="92.20" y="226.08" width="3.20" height="3.20" fill="#fff"/>
<rect x="160.20" y="226.08" width="3.20" height="3.20" fill="#fff"/>
<rect x="167.00" y="226.08" width="3.20" height="3.20" fill="#fff"/>
<rect x="173.80" y="226.08" width="3.20" height="3.20" fill="#fff"/>
<rect x="78.60" y="232.64" width="3.20" height="3.20" fill="#fff"/>
<rect x="85.40" y="232.64" width="3.20" height="3.20" fill="#fff"/>
<rect x="92.20" y="232.64" width="3.20" height="3.20" fill="#fff"/>
<rect x="160.20" y="232.64" width="3.20" height="3.20" fill="#fff"/>
<rect x="167.00" y="232.64" width="3.20" height="3.20" fill="#fff"/>
<rect x="173.80" y="232.64" width="3.20" height="3.20" fill="#fff"/>
<rect x="78.60" y="239.20" width="3.20" height="3.20" fill="#fff"/>
<rect x="85.40" y="239.20" width="3.20" height="3.20" fill="#fff"/>
<rect x="92.20" y="239.20" width="3.20" height="3.20" fill="#fff"/>
<rect x="160.20" y="239.20" width="3.20" height="3.20" fill="#fff"/>
<rect x="167.00" y="239.20" width="3.20" height="3.20" fill="#fff"/>
<rect x="173.80" y="239.20" width="3.20" height="3.20" fill="#fff"/>
<rect x="78.60" y="245.76" width="3.20" height="3.20" fill="#fff"/>
<rect x="85.40" y="245.76" width="3.20" height="3.20" fill="#fff"/>
<rect x="92.20" y="245.76" width="3.20" height="3.20" fill="#fff"/>
<rect x="160.20" y="245.76" width="3.20" height="3.20" fill="#fff"/>
<rect x="167.00" y="245.76" width="3.20" height="3.20" fill="#fff"/>
<rect x="173.80" y="245.76" width="3.20" height="3.20" fill="#fff"/>
<rect x="78.60" y="252.32" width="3.20" height="3.20" fill="#fff"/>
<rect x="85.40" y="252.32" width="3.20" height="3.20" fill="#fff"/>
<rect x="92.20" y="252.32" width="3.20" height="3.20" fill="#fff"/>
<rect x="99.00" y="252.32" width="3.20" height="3.20" fill="#fff"/>
<rect x="105.80" y="252.32" width="3.20" height="3.20" fill="#fff"/>
<rect x="112.60" y="252.32" width="3.20" height="3.20" fill="#fff"/>
<rect x="119.40" y="252.32" width="3.20" height="3.20" fill="#fff"/>
<rect x="126.20" y="252.32" width="3.20" height="3.20" fill="#fff"/>
<rect x="133.00" y="252.32" width="3.20" height="3.20" fill="#fff"/>
<rect x="139.80" y="252.32" width="3.20" height="3.20" fill="#fff"/>
<rect x="146.60" y="252.32" width="3.20" height="3.20" fill="#fff"/>
<rect x="153.40" y="252.32" width="3.20" height="3.20" fill="#fff"/>
<rect x="160.20" y="252.32" width="3.20" height="3.20" fill="#fff"/>
<rect x="167.00" y="252.32" width="3.20" height="3.20" fill="#fff"/>
<rect x="173.80" y="252.32" width="3.20" height="3.20" fill="#fff"/>
<rect x="78.60" y="258.88" width="3.20" height="3.20" fill="#fff"/>
<rect x="85.40" y="258.88" width="3.20" height="3.20" fill="#fff"/>
<rect x="92.20" y="258.88" width="3.20" height="3.20" fill="#fff"/>
<rect x="99.00" y="258.88" width="3.20" height="3.20" fill="#fff"/>
<rect x="105.80" y="258.88" width="3.20" height="3.20" fill="#fff"/>
<rect x="112.60" y="258.88" width="3.20" height="3.20" fill="#fff"/>
<rect x="119.40" y="258.88" width="3.20" height="3.20" fill="#fff"/>
<rect x="126.20" y="258.88" width="3.20" height="3.20" fill="#fff"/>
<rect x="133.00" y="258.88" width="3.20" height="3.20" fill="#fff"/>
<rect x="139.80" y="258.88" width="3.20" height="3.20" fill="#fff"/>
<rect x="146.60" y="258.88" width="3.20" height="3.20" fill="#fff"/>
<rect x="153.40" y="258.88" width="3.20" height="3.20" fill="#fff"/>
<rect x="160.20" y="258.88" width="3.20" height="3.20" fill="#fff"/>
<rect x="167.00" y="258.88" width="3.20" height="3.20" fill="#fff"/>
<rect x="173.80" y="258.88" width="3.20" height="3.20" fill="#fff"/>
<rect x="78.60" y="265.44" width="3.20" height="3.20" fill="#fff"/>
<rect x="85.40" y="265.44" width="3.20" height="3.20" fill="#fff"/>
<rect x="92.20" y="265.44" width="3.20" height="3.20" fill="#fff"/>
<rect x="99.00" y="265.44" width="3.20" height="3.20" fill="#fff"/>
<rect x="105.80" y="265.44" width="3.20" height="3.20" fill="#fff"/>
<rect x="112.60" y="265.44" width="3.20" height="3.20" fill="#fff"/>
<rect x="119.40" y="265.44" width="3.20" height="3.20" fill="#fff"/>
<rect x="126.20" y="265.44" width="3.20" height="3.20" fill="#fff"/>
<rect x="133.00" y="265.44" width="3.20" height="3.20" fill="#fff"/>
<rect x="139.80" y="265.44" width="3.20" height="3.20" fill="#fff"/>
<rect x="146.60" y="265.44" width="3.20" height="3.20" fill="#fff"/>
<rect x="153.40" y="265.44" width="3.20" height="3.20" fill="#fff"/>
<rect x="160.20" y="265.44" width="3.20" height="3.20" fill="#fff"/>
<rect x="167.00" y="265.44" width="3.20" height="3.20" fill="#fff"/>
<rect x="173.80" y="265.44" width="3.20" height="3.20" fill="#fff"/>
<rect x="102.30" y="193.60" width="52.10" height="54.40" fill="#fff"/>
<circle cx="105.8" cy="199.3" r="2.4" fill="#000" shape-rendering="geometricPrecision"/>
<rect x="31.80" y="114.20" width="7.40" height="30.60" fill="#000"/>
<rect x="33.10" y="119.80" width="4.80" height="1.10" fill="#fff"/>
<rect x="33.10" y="125.80" width="4.80" height="1.10" fill="#fff"/>
<rect x="33.10" y="131.80" width="4.80" height="1.10" fill="#fff"/>
<rect x="33.10" y="137.80" width="4.80" height="5.80" fill="#fff"/>
<rect x="34.20" y="138.80" width="2.60" height="3.80" fill="#000"/>
<rect x="35.00" y="139.60" width="1.00" height="2.20" fill="#fff"/>
<rect x="31.80" y="160.00" width="7.40" height="25.60" fill="#000"/>
<rect x="33.10" y="165.60" width="4.80" height="1.10" fill="#fff"/>
<rect x="33.10" y="171.60" width="4.80" height="1.10" fill="#fff"/>
<rect x="33.10" y="177.60" width="4.80" height="1.10" fill="#fff"/>
<rect x="33.10" y="178.60" width="4.80" height="5.80" fill="#fff"/>
<rect x="34.20" y="179.60" width="2.60" height="3.80" fill="#000"/>
<rect x="35.00" y="180.40" width="1.00" height="2.20" fill="#fff"/>
<rect x="33.10" y="161.10" width="4.80" height="1.10" fill="#fff"/>
<rect x="32.00" y="215.00" width="7.20" height="13.80" fill="#000"/>
<rect x="33.00" y="216.00" width="5.20" height="11.80" fill="#fff"/>
<rect x="33.00" y="217.20" width="3.80" height="4.20" fill="#000"/>
<rect x="33.00" y="222.60" width="3.80" height="4.00" fill="#000"/>
<rect x="32.00" y="246.80" width="7.20" height="13.80" fill="#000"/>
<rect x="33.00" y="247.80" width="5.20" height="11.80" fill="#fff"/>
<rect x="33.00" y="249.00" width="3.80" height="4.20" fill="#000"/>
<rect x="33.00" y="254.40" width="3.80" height="4.00" fill="#000"/>
<rect x="32.00" y="276.20" width="7.20" height="13.80" fill="#000"/>
<rect x="33.00" y="277.20" width="5.20" height="11.80" fill="#fff"/>
<rect x="33.00" y="278.40" width="3.80" height="4.20" fill="#000"/>
<rect x="33.00" y="283.80" width="3.80" height="4.00" fill="#000"/>
<rect x="592.00" y="190.00" width="7.20" height="13.80" fill="#000"/>
<rect x="593.00" y="191.00" width="5.20" height="11.80" fill="#fff"/>
<rect x="593.00" y="192.20" width="3.80" height="4.20" fill="#000"/>
<rect x="593.00" y="197.60" width="3.80" height="4.00" fill="#000"/>
<rect x="138.00" y="318.80" width="6.00" height="20.00" fill="#000"/>
<rect x="139.00" y="320.00" width="4.00" height="1.00" fill="#fff"/>
<rect x="139.00" y="325.20" width="4.00" height="1.50" fill="#fff"/>
<rect x="139.00" y="330.20" width="4.00" height="0.80" fill="#fff"/>
<rect x="139.00" y="332.60" width="4.00" height="4.60" fill="#fff"/>
<rect x="140.00" y="333.60" width="2.00" height="2.60" fill="#000"/>
<rect x="237.00" y="312.00" width="25.00" height="12.80" fill="#000"/>
<rect x="238.00" y="313.00" width="0.90" height="11.00" fill="#fff"/>
<rect x="238.00" y="323.20" width="23.20" height="0.90" fill="#fff"/>
<rect x="238.90" y="317.50" width="22.40" height="1.20" fill="#fff"/>
<rect x="242.60" y="313.00" width="1.90" height="10.20" fill="#fff"/>
<rect x="248.80" y="313.00" width="1.70" height="10.20" fill="#fff"/>
<rect x="255.00" y="313.00" width="1.00" height="10.20" fill="#fff"/>
<rect x="257.20" y="313.80" width="3.00" height="3.00" fill="#fff"/>
<text transform="translate(235.70,334.50) scale(0.88,1)" font-size="12" text-anchor="middle" textLength="7.58" lengthAdjust="spacing">8</text>
<text transform="translate(264.70,334.30) scale(0.88,1)" font-size="12" text-anchor="middle" textLength="7.58" lengthAdjust="spacing">2</text>
<rect x="85.00" y="354.20" width="1.05" height="5.00" fill="#000"/>
<rect x="85.60" y="454.30" width="1.05" height="5.20" fill="#000"/>
<rect x="77.20" y="362.00" width="6.00" height="1.05" fill="#000"/>
<rect x="178.00" y="362.00" width="5.80" height="1.05" fill="#000"/>
<rect x="87.10" y="354.20" width="1.05" height="5.00" fill="#000"/>
<rect x="87.70" y="454.30" width="1.05" height="5.20" fill="#000"/>
<rect x="77.20" y="364.10" width="6.00" height="1.05" fill="#000"/>
<rect x="178.00" y="364.10" width="5.80" height="1.05" fill="#000"/>
<rect x="89.20" y="354.20" width="1.05" height="5.00" fill="#000"/>
<rect x="89.80" y="454.30" width="1.05" height="5.20" fill="#000"/>
<rect x="77.20" y="366.20" width="6.00" height="1.05" fill="#000"/>
<rect x="178.00" y="366.20" width="5.80" height="1.05" fill="#000"/>
<rect x="91.30" y="354.20" width="1.05" height="5.00" fill="#000"/>
<rect x="91.90" y="454.30" width="1.05" height="5.20" fill="#000"/>
<rect x="77.20" y="368.30" width="6.00" height="1.05" fill="#000"/>
<rect x="178.00" y="368.30" width="5.80" height="1.05" fill="#000"/>
<rect x="93.40" y="354.20" width="1.05" height="5.00" fill="#000"/>
<rect x="94.00" y="454.30" width="1.05" height="5.20" fill="#000"/>
<rect x="77.20" y="370.40" width="6.00" height="1.05" fill="#000"/>
<rect x="178.00" y="370.40" width="5.80" height="1.05" fill="#000"/>
<rect x="95.50" y="354.20" width="1.05" height="5.00" fill="#000"/>
<rect x="96.10" y="454.30" width="1.05" height="5.20" fill="#000"/>
<rect x="77.20" y="372.50" width="6.00" height="1.05" fill="#000"/>
<rect x="178.00" y="372.50" width="5.80" height="1.05" fill="#000"/>
<rect x="97.60" y="354.20" width="1.05" height="5.00" fill="#000"/>
<rect x="98.20" y="454.30" width="1.05" height="5.20" fill="#000"/>
<rect x="77.20" y="374.60" width="6.00" height="1.05" fill="#000"/>
<rect x="178.00" y="374.60" width="5.80" height="1.05" fill="#000"/>
<rect x="99.70" y="354.20" width="1.05" height="5.00" fill="#000"/>
<rect x="100.30" y="454.30" width="1.05" height="5.20" fill="#000"/>
<rect x="77.20" y="376.70" width="6.00" height="1.05" fill="#000"/>
<rect x="178.00" y="376.70" width="5.80" height="1.05" fill="#000"/>
<rect x="101.80" y="354.20" width="1.05" height="5.00" fill="#000"/>
<rect x="102.40" y="454.30" width="1.05" height="5.20" fill="#000"/>
<rect x="77.20" y="378.80" width="6.00" height="1.05" fill="#000"/>
<rect x="178.00" y="378.80" width="5.80" height="1.05" fill="#000"/>
<rect x="103.90" y="354.20" width="1.05" height="5.00" fill="#000"/>
<rect x="104.50" y="454.30" width="1.05" height="5.20" fill="#000"/>
<rect x="77.20" y="380.90" width="6.00" height="1.05" fill="#000"/>
<rect x="178.00" y="380.90" width="5.80" height="1.05" fill="#000"/>
<rect x="106.00" y="354.20" width="1.05" height="5.00" fill="#000"/>
<rect x="106.60" y="454.30" width="1.05" height="5.20" fill="#000"/>
<rect x="77.20" y="383.00" width="6.00" height="1.05" fill="#000"/>
<rect x="178.00" y="383.00" width="5.80" height="1.05" fill="#000"/>
<rect x="108.10" y="354.20" width="1.05" height="5.00" fill="#000"/>
<rect x="108.70" y="454.30" width="1.05" height="5.20" fill="#000"/>
<rect x="77.20" y="385.10" width="6.00" height="1.05" fill="#000"/>
<rect x="178.00" y="385.10" width="5.80" height="1.05" fill="#000"/>
<rect x="110.20" y="354.20" width="1.05" height="5.00" fill="#000"/>
<rect x="110.80" y="454.30" width="1.05" height="5.20" fill="#000"/>
<rect x="77.20" y="387.20" width="6.00" height="1.05" fill="#000"/>
<rect x="178.00" y="387.20" width="5.80" height="1.05" fill="#000"/>
<rect x="112.30" y="354.20" width="1.05" height="5.00" fill="#000"/>
<rect x="112.90" y="454.30" width="1.05" height="5.20" fill="#000"/>
<rect x="77.20" y="389.30" width="6.00" height="1.05" fill="#000"/>
<rect x="178.00" y="389.30" width="5.80" height="1.05" fill="#000"/>
<rect x="114.40" y="354.20" width="1.05" height="5.00" fill="#000"/>
<rect x="115.00" y="454.30" width="1.05" height="5.20" fill="#000"/>
<rect x="77.20" y="391.40" width="6.00" height="1.05" fill="#000"/>
<rect x="178.00" y="391.40" width="5.80" height="1.05" fill="#000"/>
<rect x="116.50" y="354.20" width="1.05" height="5.00" fill="#000"/>
<rect x="117.10" y="454.30" width="1.05" height="5.20" fill="#000"/>
<rect x="77.20" y="393.50" width="6.00" height="1.05" fill="#000"/>
<rect x="178.00" y="393.50" width="5.80" height="1.05" fill="#000"/>
<rect x="118.60" y="354.20" width="1.05" height="5.00" fill="#000"/>
<rect x="119.20" y="454.30" width="1.05" height="5.20" fill="#000"/>
<rect x="77.20" y="395.60" width="6.00" height="1.05" fill="#000"/>
<rect x="178.00" y="395.60" width="5.80" height="1.05" fill="#000"/>
<rect x="120.70" y="354.20" width="1.05" height="5.00" fill="#000"/>
<rect x="121.30" y="454.30" width="1.05" height="5.20" fill="#000"/>
<rect x="77.20" y="397.70" width="6.00" height="1.05" fill="#000"/>
<rect x="178.00" y="397.70" width="5.80" height="1.05" fill="#000"/>
<rect x="122.80" y="354.20" width="1.05" height="5.00" fill="#000"/>
<rect x="123.40" y="454.30" width="1.05" height="5.20" fill="#000"/>
<rect x="77.20" y="399.80" width="6.00" height="1.05" fill="#000"/>
<rect x="178.00" y="399.80" width="5.80" height="1.05" fill="#000"/>
<rect x="124.90" y="354.20" width="1.05" height="5.00" fill="#000"/>
<rect x="125.50" y="454.30" width="1.05" height="5.20" fill="#000"/>
<rect x="77.20" y="401.90" width="6.00" height="1.05" fill="#000"/>
<rect x="178.00" y="401.90" width="5.80" height="1.05" fill="#000"/>
<rect x="127.00" y="354.20" width="1.05" height="5.00" fill="#000"/>
<rect x="127.60" y="454.30" width="1.05" height="5.20" fill="#000"/>
<rect x="77.20" y="404.00" width="6.00" height="1.05" fill="#000"/>
<rect x="178.00" y="404.00" width="5.80" height="1.05" fill="#000"/>
<rect x="129.10" y="354.20" width="1.05" height="5.00" fill="#000"/>
<rect x="129.70" y="454.30" width="1.05" height="5.20" fill="#000"/>
<rect x="77.20" y="406.10" width="6.00" height="1.05" fill="#000"/>
<rect x="178.00" y="406.10" width="5.80" height="1.05" fill="#000"/>
<rect x="131.20" y="354.20" width="1.05" height="5.00" fill="#000"/>
<rect x="131.80" y="454.30" width="1.05" height="5.20" fill="#000"/>
<rect x="77.20" y="408.20" width="6.00" height="1.05" fill="#000"/>
<rect x="178.00" y="408.20" width="5.80" height="1.05" fill="#000"/>
<rect x="133.30" y="354.20" width="1.05" height="5.00" fill="#000"/>
<rect x="133.90" y="454.30" width="1.05" height="5.20" fill="#000"/>
<rect x="77.20" y="410.30" width="6.00" height="1.05" fill="#000"/>
<rect x="178.00" y="410.30" width="5.80" height="1.05" fill="#000"/>
<rect x="135.40" y="354.20" width="1.05" height="5.00" fill="#000"/>
<rect x="136.00" y="454.30" width="1.05" height="5.20" fill="#000"/>
<rect x="77.20" y="412.40" width="6.00" height="1.05" fill="#000"/>
<rect x="178.00" y="412.40" width="5.80" height="1.05" fill="#000"/>
<rect x="137.50" y="354.20" width="1.05" height="5.00" fill="#000"/>
<rect x="138.10" y="454.30" width="1.05" height="5.20" fill="#000"/>
<rect x="77.20" y="414.50" width="6.00" height="1.05" fill="#000"/>
<rect x="178.00" y="414.50" width="5.80" height="1.05" fill="#000"/>
<rect x="139.60" y="354.20" width="1.05" height="5.00" fill="#000"/>
<rect x="140.20" y="454.30" width="1.05" height="5.20" fill="#000"/>
<rect x="77.20" y="416.60" width="6.00" height="1.05" fill="#000"/>
<rect x="178.00" y="416.60" width="5.80" height="1.05" fill="#000"/>
<rect x="141.70" y="354.20" width="1.05" height="5.00" fill="#000"/>
<rect x="142.30" y="454.30" width="1.05" height="5.20" fill="#000"/>
<rect x="77.20" y="418.70" width="6.00" height="1.05" fill="#000"/>
<rect x="178.00" y="418.70" width="5.80" height="1.05" fill="#000"/>
<rect x="143.80" y="354.20" width="1.05" height="5.00" fill="#000"/>
<rect x="144.40" y="454.30" width="1.05" height="5.20" fill="#000"/>
<rect x="77.20" y="420.80" width="6.00" height="1.05" fill="#000"/>
<rect x="178.00" y="420.80" width="5.80" height="1.05" fill="#000"/>
<rect x="145.90" y="354.20" width="1.05" height="5.00" fill="#000"/>
<rect x="146.50" y="454.30" width="1.05" height="5.20" fill="#000"/>
<rect x="77.20" y="422.90" width="6.00" height="1.05" fill="#000"/>
<rect x="178.00" y="422.90" width="5.80" height="1.05" fill="#000"/>
<rect x="148.00" y="354.20" width="1.05" height="5.00" fill="#000"/>
<rect x="148.60" y="454.30" width="1.05" height="5.20" fill="#000"/>
<rect x="77.20" y="425.00" width="6.00" height="1.05" fill="#000"/>
<rect x="178.00" y="425.00" width="5.80" height="1.05" fill="#000"/>
<rect x="150.10" y="354.20" width="1.05" height="5.00" fill="#000"/>
<rect x="150.70" y="454.30" width="1.05" height="5.20" fill="#000"/>
<rect x="77.20" y="427.10" width="6.00" height="1.05" fill="#000"/>
<rect x="178.00" y="427.10" width="5.80" height="1.05" fill="#000"/>
<rect x="152.20" y="354.20" width="1.05" height="5.00" fill="#000"/>
<rect x="152.80" y="454.30" width="1.05" height="5.20" fill="#000"/>
<rect x="77.20" y="429.20" width="6.00" height="1.05" fill="#000"/>
<rect x="178.00" y="429.20" width="5.80" height="1.05" fill="#000"/>
<rect x="154.30" y="354.20" width="1.05" height="5.00" fill="#000"/>
<rect x="154.90" y="454.30" width="1.05" height="5.20" fill="#000"/>
<rect x="77.20" y="431.30" width="6.00" height="1.05" fill="#000"/>
<rect x="178.00" y="431.30" width="5.80" height="1.05" fill="#000"/>
<rect x="156.40" y="354.20" width="1.05" height="5.00" fill="#000"/>
<rect x="157.00" y="454.30" width="1.05" height="5.20" fill="#000"/>
<rect x="77.20" y="433.40" width="6.00" height="1.05" fill="#000"/>
<rect x="178.00" y="433.40" width="5.80" height="1.05" fill="#000"/>
<rect x="158.50" y="354.20" width="1.05" height="5.00" fill="#000"/>
<rect x="159.10" y="454.30" width="1.05" height="5.20" fill="#000"/>
<rect x="77.20" y="435.50" width="6.00" height="1.05" fill="#000"/>
<rect x="178.00" y="435.50" width="5.80" height="1.05" fill="#000"/>
<rect x="160.60" y="354.20" width="1.05" height="5.00" fill="#000"/>
<rect x="161.20" y="454.30" width="1.05" height="5.20" fill="#000"/>
<rect x="77.20" y="437.60" width="6.00" height="1.05" fill="#000"/>
<rect x="178.00" y="437.60" width="5.80" height="1.05" fill="#000"/>
<rect x="162.70" y="354.20" width="1.05" height="5.00" fill="#000"/>
<rect x="163.30" y="454.30" width="1.05" height="5.20" fill="#000"/>
<rect x="77.20" y="439.70" width="6.00" height="1.05" fill="#000"/>
<rect x="178.00" y="439.70" width="5.80" height="1.05" fill="#000"/>
<rect x="164.80" y="354.20" width="1.05" height="5.00" fill="#000"/>
<rect x="165.40" y="454.30" width="1.05" height="5.20" fill="#000"/>
<rect x="77.20" y="441.80" width="6.00" height="1.05" fill="#000"/>
<rect x="178.00" y="441.80" width="5.80" height="1.05" fill="#000"/>
<rect x="166.90" y="354.20" width="1.05" height="5.00" fill="#000"/>
<rect x="167.50" y="454.30" width="1.05" height="5.20" fill="#000"/>
<rect x="77.20" y="443.90" width="6.00" height="1.05" fill="#000"/>
<rect x="178.00" y="443.90" width="5.80" height="1.05" fill="#000"/>
<rect x="169.00" y="354.20" width="1.05" height="5.00" fill="#000"/>
<rect x="169.60" y="454.30" width="1.05" height="5.20" fill="#000"/>
<rect x="77.20" y="446.00" width="6.00" height="1.05" fill="#000"/>
<rect x="178.00" y="446.00" width="5.80" height="1.05" fill="#000"/>
<rect x="171.10" y="354.20" width="1.05" height="5.00" fill="#000"/>
<rect x="171.70" y="454.30" width="1.05" height="5.20" fill="#000"/>
<rect x="77.20" y="448.10" width="6.00" height="1.05" fill="#000"/>
<rect x="178.00" y="448.10" width="5.80" height="1.05" fill="#000"/>
<rect x="173.20" y="354.20" width="1.05" height="5.00" fill="#000"/>
<rect x="173.80" y="454.30" width="1.05" height="5.20" fill="#000"/>
<rect x="77.20" y="450.20" width="6.00" height="1.05" fill="#000"/>
<rect x="178.00" y="450.20" width="5.80" height="1.05" fill="#000"/>
<rect x="175.30" y="354.20" width="1.05" height="5.00" fill="#000"/>
<rect x="175.90" y="454.30" width="1.05" height="5.20" fill="#000"/>
<rect x="77.20" y="452.30" width="6.00" height="1.05" fill="#000"/>
<rect x="178.00" y="452.30" width="5.80" height="1.05" fill="#000"/>
<rect x="82.90" y="358.80" width="95.70" height="96.40" fill="#000"/>
<rect x="84.20" y="360.10" width="93.10" height="93.80" fill="#fff"/>
<circle cx="89.1" cy="365" r="3.4" fill="#fff" stroke="#000" stroke-width="1" shape-rendering="geometricPrecision"/>
<rect x="321.00" y="464.00" width="25.00" height="18.80" fill="#000"/>
<rect x="322.10" y="465.00" width="0.90" height="16.80" fill="#fff"/>
<rect x="323.00" y="469.70" width="4.50" height="1.10" fill="#fff"/>
<rect x="323.00" y="475.00" width="4.50" height="6.80" fill="#fff"/>
<rect x="323.00" y="477.00" width="4.50" height="4.00" fill="#000"/>
<rect x="324.20" y="478.00" width="2.10" height="2.20" fill="#fff"/>
<rect x="328.30" y="469.70" width="4.50" height="1.10" fill="#fff"/>
<rect x="328.30" y="475.00" width="4.50" height="6.80" fill="#fff"/>
<rect x="328.30" y="477.00" width="4.50" height="4.00" fill="#000"/>
<rect x="329.50" y="478.00" width="2.10" height="2.20" fill="#fff"/>
<rect x="334.30" y="469.70" width="4.50" height="1.10" fill="#fff"/>
<rect x="334.30" y="475.00" width="4.50" height="6.80" fill="#fff"/>
<rect x="334.30" y="477.00" width="4.50" height="4.00" fill="#000"/>
<rect x="335.50" y="478.00" width="2.10" height="2.20" fill="#fff"/>
<rect x="340.30" y="469.70" width="4.50" height="1.10" fill="#fff"/>
<rect x="340.30" y="475.00" width="4.50" height="6.80" fill="#fff"/>
<rect x="340.30" y="477.00" width="4.50" height="4.00" fill="#000"/>
<rect x="341.50" y="478.00" width="2.10" height="2.20" fill="#fff"/>
<rect x="147.00" y="23.50" width="59.00" height="18.50" rx="3" ry="3" fill="#000" shape-rendering="geometricPrecision"/>
<rect x="148.00" y="92.50" width="59.50" height="18.50" rx="3" ry="3" fill="#000" shape-rendering="geometricPrecision"/>
<rect x="352.00" y="45.20" width="33.00" height="18.30" rx="3" ry="3" fill="#000" shape-rendering="geometricPrecision"/>
<rect x="633.20" y="91.30" width="25.60" height="18.50" rx="3" ry="3" fill="#000" shape-rendering="geometricPrecision"/>
<rect x="669.00" y="123.00" width="25.80" height="17.60" rx="3" ry="3" fill="#000" shape-rendering="geometricPrecision"/>
<rect x="551.00" y="188.40" width="24.80" height="17.40" rx="3" ry="3" fill="#000" shape-rendering="geometricPrecision"/>
<rect x="429.20" y="167.00" width="35.60" height="17.80" rx="3" ry="3" fill="#000" shape-rendering="geometricPrecision"/>
<rect x="691.80" y="248.60" width="25.20" height="17.00" rx="3" ry="3" fill="#000" shape-rendering="geometricPrecision"/>
<rect x="757.80" y="64.00" width="30.80" height="17.20" rx="3" ry="3" fill="#000" shape-rendering="geometricPrecision"/>
<rect x="757.50" y="158.00" width="30.70" height="16.00" rx="3" ry="3" fill="#000" shape-rendering="geometricPrecision"/>
<rect x="756.80" y="251.60" width="31.40" height="15.80" rx="3" ry="3" fill="#000" shape-rendering="geometricPrecision"/>
<rect x="757.60" y="337.60" width="31.40" height="16.20" rx="3" ry="3" fill="#000" shape-rendering="geometricPrecision"/>
<rect x="746.20" y="408.00" width="32.00" height="18.40" rx="3" ry="3" fill="#000" shape-rendering="geometricPrecision"/>
<rect x="425.90" y="372.40" width="33.60" height="17.60" rx="3" ry="3" fill="#000" shape-rendering="geometricPrecision"/>
<rect x="521.20" y="372.40" width="33.00" height="18.00" rx="3" ry="3" fill="#000" shape-rendering="geometricPrecision"/>
<rect x="415.60" y="318.60" width="34.20" height="18.40" rx="3" ry="3" fill="#000" shape-rendering="geometricPrecision"/>
<rect x="519.80" y="305.60" width="32.60" height="17.80" rx="3" ry="3" fill="#000" shape-rendering="geometricPrecision"/>
<rect x="535.00" y="330.60" width="36.60" height="17.00" rx="3" ry="3" fill="#000" shape-rendering="geometricPrecision"/>
<rect x="170.70" y="148.60" width="33.90" height="16.80" rx="3" ry="3" fill="#000" shape-rendering="geometricPrecision"/>
<rect x="229.60" y="142.80" width="32.80" height="17.00" rx="3" ry="3" fill="#000" shape-rendering="geometricPrecision"/>
<rect x="246.00" y="168.60" width="35.40" height="17.40" rx="3" ry="3" fill="#000" shape-rendering="geometricPrecision"/>
<rect x="200.80" y="202.80" width="32.60" height="17.40" rx="3" ry="3" fill="#000" shape-rendering="geometricPrecision"/>
<rect x="111.20" y="211.40" width="32.80" height="18.20" rx="3" ry="3" fill="#000" shape-rendering="geometricPrecision"/>
<rect x="152.60" y="169.00" width="33.60" height="16.20" rx="3" ry="3" fill="#000" shape-rendering="geometricPrecision"/>
<rect x="53.80" y="129.00" width="34.80" height="18.60" rx="3" ry="3" fill="#000" shape-rendering="geometricPrecision"/>
<rect x="53.80" y="163.00" width="35.00" height="17.80" rx="3" ry="3" fill="#000" shape-rendering="geometricPrecision"/>
<rect x="53.60" y="213.40" width="34.40" height="17.80" rx="3" ry="3" fill="#000" shape-rendering="geometricPrecision"/>
<rect x="53.60" y="244.00" width="34.40" height="18.00" rx="3" ry="3" fill="#000" shape-rendering="geometricPrecision"/>
<rect x="53.60" y="275.20" width="35.40" height="17.60" rx="3" ry="3" fill="#000" shape-rendering="geometricPrecision"/>
<rect x="159.40" y="318.80" width="35.60" height="19.40" rx="3" ry="3" fill="#000" shape-rendering="geometricPrecision"/>
<rect x="233.60" y="340.40" width="33.60" height="18.40" rx="3" ry="3" fill="#000" shape-rendering="geometricPrecision"/>
<rect x="113.60" y="397.80" width="33.60" height="18.20" rx="3" ry="3" fill="#000" shape-rendering="geometricPrecision"/>
<rect x="291.40" y="439.20" width="33.80" height="18.00" rx="3" ry="3" fill="#000" shape-rendering="geometricPrecision"/>
<rect x="343.20" y="439.20" width="33.60" height="18.00" rx="3" ry="3" fill="#000" shape-rendering="geometricPrecision"/>
<rect x="271.20" y="464.80" width="35.40" height="18.00" rx="3" ry="3" fill="#000" shape-rendering="geometricPrecision"/>
<rect x="360.20" y="464.80" width="36.00" height="18.00" rx="3" ry="3" fill="#000" shape-rendering="geometricPrecision"/>
<polygon points="368.55,30.00 368.00,36.10 365.90,46.50 373.10,46.50 371.00,36.10 370.45,30.00" fill="#000" shape-rendering="geometricPrecision"/>
<polygon points="369.50,38.75 367.40,46.50 367.40,49.50 371.60,49.50 371.60,46.50" fill="#fff" shape-rendering="geometricPrecision"/>
<polygon points="646.55,125.90 646.52,120.25 647.18,108.15 640.42,108.85 643.53,120.55 644.65,126.10" fill="#000" shape-rendering="geometricPrecision"/>
<polygon points="644.74,117.60 645.69,108.31 645.38,105.32 641.60,105.71 641.91,108.69" fill="#fff" shape-rendering="geometricPrecision"/>
<polygon points="654.00,132.75 660.93,133.30 670.50,135.60 670.50,128.00 660.93,130.30 654.00,130.85" fill="#000" shape-rendering="geometricPrecision"/>
<polygon points="663.57,131.80 670.50,134.10 673.50,134.10 673.50,129.50 670.50,129.50" fill="#fff" shape-rendering="geometricPrecision"/>
<polygon points="592.00,195.85 584.57,195.30 574.30,193.00 574.30,200.60 584.57,198.30 592.00,197.75" fill="#000" shape-rendering="geometricPrecision"/>
<polygon points="581.73,196.80 574.30,194.50 571.30,194.50 571.30,199.10 574.30,199.10" fill="#fff" shape-rendering="geometricPrecision"/>
<polygon points="415.00,176.45 421.59,177.00 430.70,179.30 430.70,171.70 421.59,174.00 415.00,174.55" fill="#000" shape-rendering="geometricPrecision"/>
<polygon points="424.11,175.50 430.70,177.80 433.70,177.80 433.70,173.20 430.70,173.20" fill="#fff" shape-rendering="geometricPrecision"/>
<polygon points="676.40,257.45 683.50,258.00 693.30,260.10 693.30,252.90 683.50,255.00 676.40,255.55" fill="#000" shape-rendering="geometricPrecision"/>
<polygon points="686.20,256.50 693.30,258.60 696.30,258.60 696.30,254.40 693.30,254.40" fill="#fff" shape-rendering="geometricPrecision"/>
<polygon points="476.00,380.25 468.44,379.70 458.00,377.40 458.00,385.00 468.44,382.70 476.00,382.15" fill="#000" shape-rendering="geometricPrecision"/>
<polygon points="465.56,381.20 458.00,378.90 455.00,378.90 455.00,383.50 458.00,383.50" fill="#fff" shape-rendering="geometricPrecision"/>
<polygon points="506.00,382.15 513.01,382.70 522.70,385.00 522.70,377.40 513.01,379.70 506.00,380.25" fill="#000" shape-rendering="geometricPrecision"/>
<polygon points="515.69,381.20 522.70,383.50 525.70,383.50 525.70,378.90 522.70,378.90" fill="#fff" shape-rendering="geometricPrecision"/>
<polygon points="465.40,326.65 458.22,326.10 448.30,323.80 448.30,331.40 458.22,329.10 465.40,328.55" fill="#000" shape-rendering="geometricPrecision"/>
<polygon points="455.48,327.60 448.30,325.30 445.30,325.30 445.30,329.90 448.30,329.90" fill="#fff" shape-rendering="geometricPrecision"/>
<polygon points="512.61,331.13 516.07,328.96 525.55,323.26 521.45,318.34 514.14,326.66 511.39,329.67" fill="#000" shape-rendering="geometricPrecision"/>
<polygon points="516.95,326.27 524.59,322.11 526.12,320.82 523.95,318.21 522.41,319.49" fill="#fff" shape-rendering="geometricPrecision"/>
<polygon points="521.80,339.55 527.97,340.10 536.50,342.40 536.50,334.80 527.97,337.10 521.80,337.65" fill="#000" shape-rendering="geometricPrecision"/>
<polygon points="530.33,338.60 536.50,340.90 539.50,340.90 539.50,336.30 536.50,336.30" fill="#fff" shape-rendering="geometricPrecision"/>
<polygon points="211.25,172.42 209.67,169.44 205.38,161.38 200.62,165.02 207.28,171.27 209.75,173.58" fill="#000" shape-rendering="geometricPrecision"/>
<polygon points="207.28,168.79 204.19,162.29 202.98,160.70 200.59,162.52 201.81,164.11" fill="#fff" shape-rendering="geometricPrecision"/>
<polygon points="222.12,167.72 225.45,165.57 234.46,159.77 230.54,155.23 223.49,163.30 220.88,166.28" fill="#000" shape-rendering="geometricPrecision"/>
<polygon points="226.23,162.91 233.48,158.64 234.99,157.33 233.03,155.06 231.52,156.36" fill="#fff" shape-rendering="geometricPrecision"/>
<polygon points="232.20,178.15 238.63,178.70 247.50,181.00 247.50,173.40 238.63,175.70 232.20,176.25" fill="#000" shape-rendering="geometricPrecision"/>
<polygon points="241.07,177.20 247.50,179.50 250.50,179.50 250.50,174.90 247.50,174.90" fill="#fff" shape-rendering="geometricPrecision"/>
<polygon points="216.05,185.60 215.50,192.52 213.40,204.30 220.60,204.30 218.50,192.52 217.95,185.60" fill="#000" shape-rendering="geometricPrecision"/>
<polygon points="217.00,195.51 214.90,204.30 214.90,207.30 219.10,207.30 219.10,204.30" fill="#fff" shape-rendering="geometricPrecision"/>
<polygon points="201.20,176.25 194.27,175.70 184.70,173.40 184.70,181.00 194.27,178.70 201.20,178.15" fill="#000" shape-rendering="geometricPrecision"/>
<polygon points="191.63,177.20 184.70,174.90 181.70,174.90 181.70,179.50 184.70,179.50" fill="#fff" shape-rendering="geometricPrecision"/>
<polygon points="39.20,138.55 45.96,139.10 55.30,141.40 55.30,133.80 45.96,136.10 39.20,136.65" fill="#000" shape-rendering="geometricPrecision"/>
<polygon points="48.54,137.60 55.30,139.90 58.30,139.90 58.30,135.30 55.30,135.30" fill="#fff" shape-rendering="geometricPrecision"/>
<polygon points="39.20,172.55 45.96,173.10 55.30,175.40 55.30,167.80 45.96,170.10 39.20,170.65" fill="#000" shape-rendering="geometricPrecision"/>
<polygon points="48.54,171.60 55.30,173.90 58.30,173.90 58.30,169.30 55.30,169.30" fill="#fff" shape-rendering="geometricPrecision"/>
<polygon points="39.20,222.95 45.88,223.50 55.10,225.80 55.10,218.20 45.88,220.50 39.20,221.05" fill="#000" shape-rendering="geometricPrecision"/>
<polygon points="48.42,222.00 55.10,224.30 58.10,224.30 58.10,219.70 55.10,219.70" fill="#fff" shape-rendering="geometricPrecision"/>
<polygon points="39.20,254.55 45.88,255.10 55.10,257.40 55.10,249.80 45.88,252.10 39.20,252.65" fill="#000" shape-rendering="geometricPrecision"/>
<polygon points="48.42,253.60 55.10,255.90 58.10,255.90 58.10,251.30 55.10,251.30" fill="#fff" shape-rendering="geometricPrecision"/>
<polygon points="39.20,284.55 45.88,285.10 55.10,287.40 55.10,279.80 45.88,282.10 39.20,282.65" fill="#000" shape-rendering="geometricPrecision"/>
<polygon points="48.42,283.60 55.10,285.90 58.10,285.90 58.10,281.30 55.10,281.30" fill="#fff" shape-rendering="geometricPrecision"/>
<polygon points="144.00,329.35 151.10,329.90 160.90,332.20 160.90,324.60 151.10,326.90 144.00,327.45" fill="#000" shape-rendering="geometricPrecision"/>
<polygon points="153.80,328.40 160.90,330.70 163.90,330.70 163.90,326.10 160.90,326.10" fill="#fff" shape-rendering="geometricPrecision"/>
<polygon points="250.25,324.78 249.51,332.80 247.90,341.83 253.70,341.97 252.51,332.87 252.15,324.82" fill="#000" shape-rendering="geometricPrecision"/>
<polygon points="250.95,335.57 249.40,341.87 249.33,344.87 252.13,344.93 252.20,341.93" fill="#fff" shape-rendering="geometricPrecision"/>
<polygon points="332.22,463.78 330.48,460.89 325.78,453.06 321.22,456.94 328.20,462.83 330.78,465.02" fill="#000" shape-rendering="geometricPrecision"/>
<polygon points="328.06,460.36 324.64,454.03 323.35,452.50 321.06,454.45 322.36,455.97" fill="#fff" shape-rendering="geometricPrecision"/>
<polygon points="337.20,465.04 339.91,462.87 347.23,457.01 342.77,452.99 337.68,460.86 335.80,463.76" fill="#000" shape-rendering="geometricPrecision"/>
<polygon points="340.15,460.36 346.11,456.01 347.45,454.52 345.23,452.51 343.89,453.99" fill="#fff" shape-rendering="geometricPrecision"/>
<polygon points="321.00,472.65 314.32,472.10 305.10,469.80 305.10,477.40 314.32,475.10 321.00,474.55" fill="#000" shape-rendering="geometricPrecision"/>
<polygon points="311.78,473.60 305.10,471.30 302.10,471.30 302.10,475.90 305.10,475.90" fill="#fff" shape-rendering="geometricPrecision"/>
<polygon points="346.00,474.55 352.59,475.10 361.70,477.40 361.70,469.80 352.59,472.10 346.00,472.65" fill="#000" shape-rendering="geometricPrecision"/>
<polygon points="355.11,473.60 361.70,475.90 364.70,475.90 364.70,471.30 361.70,471.30" fill="#fff" shape-rendering="geometricPrecision"/>
<rect x="149.10" y="25.30" width="54.60" height="14.10" rx="2" ry="2" fill="#fff" shape-rendering="geometricPrecision"/>
<text transform="translate(176.50,36.95) scale(0.88,1)" font-size="13" text-anchor="middle" textLength="54.77" lengthAdjust="spacing">BANK 1</text>
<rect x="150.10" y="94.30" width="55.10" height="14.10" rx="2" ry="2" fill="#fff" shape-rendering="geometricPrecision"/>
<text transform="translate(176.75,105.95) scale(0.88,1)" font-size="13" text-anchor="middle" textLength="54.77" lengthAdjust="spacing">BANK 0</text>
<rect x="354.10" y="47.00" width="28.60" height="13.90" rx="2" ry="2" fill="#fff" shape-rendering="geometricPrecision"/>
<text transform="translate(367.30,58.55) scale(0.88,1)" font-size="13" text-anchor="middle" textLength="23.81" lengthAdjust="spacing">J13</text>
<rect x="635.30" y="93.10" width="21.20" height="14.10" rx="2" ry="2" fill="#fff" shape-rendering="geometricPrecision"/>
<text transform="translate(644.80,104.75) scale(0.88,1)" font-size="13" text-anchor="middle" textLength="15.60" lengthAdjust="spacing">J8</text>
<rect x="671.10" y="124.80" width="21.40" height="13.20" rx="2" ry="2" fill="#fff" shape-rendering="geometricPrecision"/>
<text transform="translate(680.70,136.00) scale(0.88,1)" font-size="13" text-anchor="middle" textLength="15.60" lengthAdjust="spacing">J9</text>
<rect x="553.10" y="190.20" width="20.40" height="13.00" rx="2" ry="2" fill="#fff" shape-rendering="geometricPrecision"/>
<text transform="translate(562.20,201.30) scale(0.88,1)" font-size="13" text-anchor="middle" textLength="15.60" lengthAdjust="spacing">J5</text>
<rect x="431.30" y="168.80" width="31.20" height="13.40" rx="2" ry="2" fill="#fff" shape-rendering="geometricPrecision"/>
<text transform="translate(445.00,180.10) scale(0.88,1)" font-size="13" text-anchor="middle" textLength="23.81" lengthAdjust="spacing">J10</text>
<rect x="693.90" y="250.40" width="20.80" height="12.60" rx="2" ry="2" fill="#fff" shape-rendering="geometricPrecision"/>
<text transform="translate(703.20,261.30) scale(0.88,1)" font-size="13" text-anchor="middle" textLength="15.60" lengthAdjust="spacing">J4</text>
<rect x="759.90" y="65.80" width="26.40" height="12.80" rx="2" ry="2" fill="#fff" shape-rendering="geometricPrecision"/>
<text transform="translate(772.70,76.80) scale(0.88,1)" font-size="13" text-anchor="middle" textLength="29.55" lengthAdjust="spacing">CN6</text>
<rect x="759.60" y="159.80" width="26.30" height="11.60" rx="2" ry="2" fill="#fff" shape-rendering="geometricPrecision"/>
<text transform="translate(772.35,170.20) scale(0.88,1)" font-size="13" text-anchor="middle" textLength="29.55" lengthAdjust="spacing">CN5</text>
<rect x="758.90" y="253.40" width="27.00" height="11.40" rx="2" ry="2" fill="#fff" shape-rendering="geometricPrecision"/>
<text transform="translate(772.00,263.70) scale(0.88,1)" font-size="13" text-anchor="middle" textLength="29.55" lengthAdjust="spacing">CN4</text>
<rect x="759.70" y="339.40" width="27.00" height="11.80" rx="2" ry="2" fill="#fff" shape-rendering="geometricPrecision"/>
<text transform="translate(772.80,349.90) scale(0.88,1)" font-size="13" text-anchor="middle" textLength="29.55" lengthAdjust="spacing">CN3</text>
<rect x="748.30" y="409.80" width="27.60" height="14.00" rx="2" ry="2" fill="#fff" shape-rendering="geometricPrecision"/>
<text transform="translate(761.70,421.40) scale(0.88,1)" font-size="13" text-anchor="middle" textLength="29.55" lengthAdjust="spacing">CN2</text>
<rect x="428.00" y="374.20" width="29.20" height="13.20" rx="2" ry="2" fill="#fff" shape-rendering="geometricPrecision"/>
<text transform="translate(441.50,385.40) scale(0.88,1)" font-size="13" text-anchor="middle" textLength="29.55" lengthAdjust="spacing">CN9</text>
<rect x="523.30" y="374.20" width="28.60" height="13.60" rx="2" ry="2" fill="#fff" shape-rendering="geometricPrecision"/>
<text transform="translate(536.50,385.60) scale(0.88,1)" font-size="13" text-anchor="middle" textLength="29.55" lengthAdjust="spacing">CN8</text>
<rect x="417.70" y="320.40" width="29.80" height="14.00" rx="2" ry="2" fill="#fff" shape-rendering="geometricPrecision"/>
<text transform="translate(431.50,332.00) scale(0.88,1)" font-size="13" text-anchor="middle" textLength="23.81" lengthAdjust="spacing">J45</text>
<rect x="521.90" y="307.40" width="28.20" height="13.40" rx="2" ry="2" fill="#fff" shape-rendering="geometricPrecision"/>
<text transform="translate(534.90,318.70) scale(0.88,1)" font-size="13" text-anchor="middle" textLength="24.63" lengthAdjust="spacing">JF2</text>
<rect x="537.10" y="332.40" width="32.20" height="12.60" rx="2" ry="2" fill="#fff" shape-rendering="geometricPrecision"/>
<text transform="translate(552.10,343.30) scale(0.88,1)" font-size="13" text-anchor="middle" textLength="24.63" lengthAdjust="spacing">JF1</text>
<rect x="172.80" y="150.40" width="29.50" height="12.40" rx="2" ry="2" fill="#fff" shape-rendering="geometricPrecision"/>
<text transform="translate(186.45,161.20) scale(0.88,1)" font-size="13" text-anchor="middle" textLength="26.27" lengthAdjust="spacing">JC4</text>
<rect x="231.70" y="144.60" width="28.40" height="12.60" rx="2" ry="2" fill="#fff" shape-rendering="geometricPrecision"/>
<text transform="translate(244.80,155.50) scale(0.88,1)" font-size="13" text-anchor="middle" textLength="26.27" lengthAdjust="spacing">JC2</text>
<rect x="248.10" y="170.40" width="31.00" height="13.00" rx="2" ry="2" fill="#fff" shape-rendering="geometricPrecision"/>
<text transform="translate(262.50,181.50) scale(0.88,1)" font-size="13" text-anchor="middle" textLength="26.27" lengthAdjust="spacing">JC1</text>
<rect x="202.90" y="204.60" width="28.20" height="13.00" rx="2" ry="2" fill="#fff" shape-rendering="geometricPrecision"/>
<text transform="translate(215.90,215.70) scale(0.88,1)" font-size="13" text-anchor="middle" textLength="26.27" lengthAdjust="spacing">JC3</text>
<rect x="113.30" y="213.20" width="28.40" height="13.80" rx="2" ry="2" fill="#fff" shape-rendering="geometricPrecision"/>
<text transform="translate(126.40,224.70) scale(0.88,1)" font-size="13" text-anchor="middle" textLength="30.68" lengthAdjust="spacing">CPU</text>
<rect x="154.70" y="170.80" width="29.20" height="11.80" rx="2" ry="2" fill="#fff" shape-rendering="geometricPrecision"/>
<text transform="translate(168.20,181.30) scale(0.88,1)" font-size="13" text-anchor="middle" textLength="26.27" lengthAdjust="spacing">JC5</text>
<rect x="55.90" y="130.80" width="30.40" height="14.20" rx="2" ry="2" fill="#fff" shape-rendering="geometricPrecision"/>
<text transform="translate(70.00,142.50) scale(0.88,1)" font-size="13" text-anchor="middle" textLength="23.81" lengthAdjust="spacing">J23</text>
<rect x="55.90" y="164.80" width="32.30" height="13.40" rx="2" ry="2" fill="#fff" shape-rendering="geometricPrecision"/>
<text transform="translate(70.10,176.10) scale(0.88,1)" font-size="13" text-anchor="middle" textLength="23.81" lengthAdjust="spacing">J22</text>
<rect x="55.70" y="215.20" width="32.00" height="13.40" rx="2" ry="2" fill="#fff" shape-rendering="geometricPrecision"/>
<text transform="translate(69.60,226.50) scale(0.88,1)" font-size="13" text-anchor="middle" textLength="23.81" lengthAdjust="spacing">J21</text>
<rect x="55.70" y="245.80" width="32.00" height="13.60" rx="2" ry="2" fill="#fff" shape-rendering="geometricPrecision"/>
<text transform="translate(69.60,257.20) scale(0.88,1)" font-size="13" text-anchor="middle" textLength="23.81" lengthAdjust="spacing">J19</text>
<rect x="55.70" y="277.00" width="31.00" height="13.20" rx="2" ry="2" fill="#fff" shape-rendering="geometricPrecision"/>
<text transform="translate(70.10,288.20) scale(0.88,1)" font-size="13" text-anchor="middle" textLength="23.81" lengthAdjust="spacing">J20</text>
<rect x="161.50" y="320.60" width="31.20" height="15.00" rx="2" ry="2" fill="#fff" shape-rendering="geometricPrecision"/>
<text transform="translate(174.40,332.70) scale(0.88,1)" font-size="13" text-anchor="middle" textLength="23.81" lengthAdjust="spacing">J11</text>
<rect x="235.70" y="342.20" width="29.20" height="14.00" rx="2" ry="2" fill="#fff" shape-rendering="geometricPrecision"/>
<text transform="translate(249.20,353.80) scale(0.88,1)" font-size="13" text-anchor="middle" textLength="25.45" lengthAdjust="spacing">JK1</text>
<rect x="115.70" y="399.60" width="29.20" height="13.80" rx="2" ry="2" fill="#fff" shape-rendering="geometricPrecision"/>
<text transform="translate(129.20,411.10) scale(0.88,1)" font-size="13" text-anchor="middle" textLength="30.68" lengthAdjust="spacing">CPU</text>
<rect x="293.50" y="441.00" width="29.40" height="13.60" rx="2" ry="2" fill="#fff" shape-rendering="geometricPrecision"/>
<text transform="translate(307.10,452.40) scale(0.88,1)" font-size="13" text-anchor="middle" textLength="23.81" lengthAdjust="spacing">J16</text>
<rect x="345.30" y="441.00" width="29.20" height="13.60" rx="2" ry="2" fill="#fff" shape-rendering="geometricPrecision"/>
<text transform="translate(358.80,452.40) scale(0.88,1)" font-size="13" text-anchor="middle" textLength="23.81" lengthAdjust="spacing">J17</text>
<rect x="273.30" y="466.60" width="31.00" height="13.60" rx="2" ry="2" fill="#fff" shape-rendering="geometricPrecision"/>
<text transform="translate(287.70,478.00) scale(0.88,1)" font-size="13" text-anchor="middle" textLength="23.81" lengthAdjust="spacing">J18</text>
<rect x="362.30" y="466.60" width="31.60" height="13.60" rx="2" ry="2" fill="#fff" shape-rendering="geometricPrecision"/>
<text transform="translate(377.00,478.00) scale(0.88,1)" font-size="13" text-anchor="middle" textLength="23.81" lengthAdjust="spacing">J24</text>
</svg>
</body></html>
